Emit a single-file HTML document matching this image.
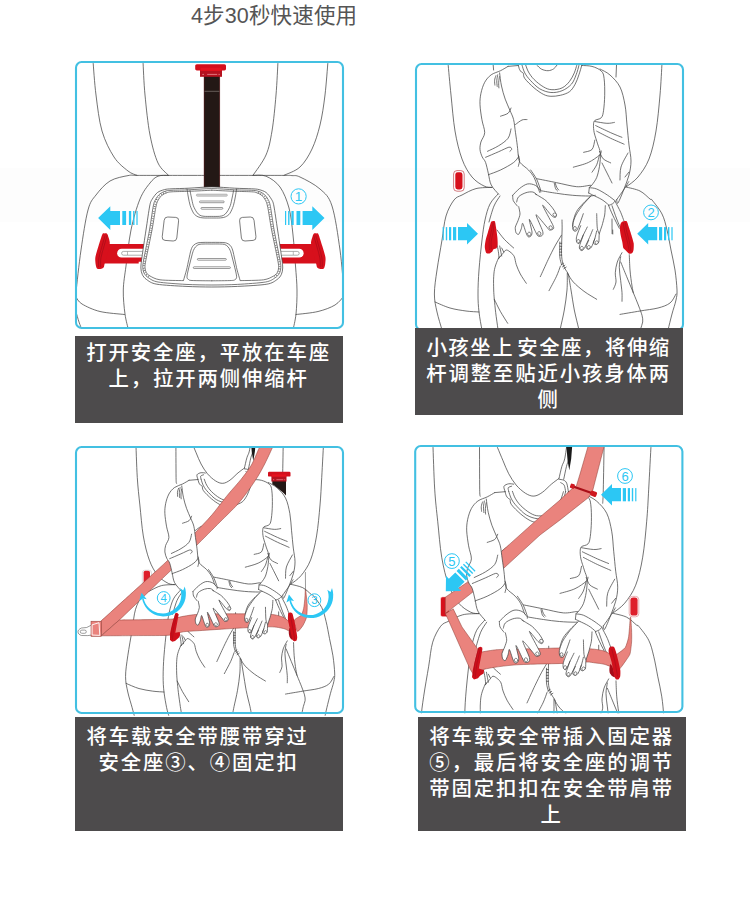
<!DOCTYPE html>
<html lang="zh-CN">
<head>
<meta charset="utf-8">
<title>4步30秒快速使用</title>
<style>
html,body{margin:0;padding:0;background:#fff;}
body{width:750px;height:897px;position:relative;overflow:hidden;font-family:"Liberation Sans","Noto Sans CJK SC",sans-serif;}
.band{position:absolute;left:0;top:168px;width:750px;height:54px;background:#fdfdfd;}
.title{position:absolute;left:191px;top:1px;height:30px;line-height:30px;font-size:21.5px;color:#555;white-space:nowrap;letter-spacing:0.15px;}
.cap{position:absolute;background:#4d4b4c;color:#fff;font-size:20.4px;letter-spacing:1.85px;font-weight:500;line-height:26px;text-align:center;white-space:nowrap;}
.cap span{position:absolute;left:0;display:block;white-space:nowrap;}
svg.art{position:absolute;left:0;top:0;}
</style>
</head>
<body>
<div class="band"></div>
<div class="title">4步30秒快速使用</div>
<svg class="art" width="750" height="897" viewBox="0 0 750 897">
<defs>
<clipPath id="c1"><rect x="76" y="62" width="267" height="266" rx="6"/></clipPath>
<clipPath id="c2"><rect x="416" y="64" width="267" height="266" rx="6"/></clipPath>
<clipPath id="c3"><rect x="76" y="447" width="267" height="270" rx="6"/></clipPath>
<clipPath id="c4"><rect x="415" y="446" width="267.5" height="267.2" rx="6"/></clipPath>
</defs>
<g id="p1" clip-path="url(#c1)">
<g fill="none" stroke="#444" stroke-width="0.75" stroke-linecap="round" stroke-linejoin="round">
<path d="M93 61C93.5 66.7 94.5 83.3 96 95C97.5 106.7 99 120.7 102 131C105 141.3 109.7 150.3 114 157C118.3 163.7 124.2 167.9 128 171C131.8 174.1 135.5 174.6 137 175.3"/>
<path d="M143 61C143.3 66.7 143.8 82.7 145 95C146.2 107.3 147.8 123.7 150 135C152.2 146.3 154.9 156.3 158 163C161.1 169.7 166.8 173.2 168.5 175.3"/>
<path d="M328 61C327.5 66.7 326.3 84.3 325 95C323.7 105.7 322.2 116 320 125C317.8 134 315.3 142 312 149C308.7 156 304.7 162.6 300 167C295.3 171.4 286.7 173.9 284 175.3"/>
<path d="M278 61C277.7 66.7 277 83.3 276 95C275 106.7 273.7 121 272 131C270.3 141 269.2 147.6 266 155C262.8 162.4 255.2 171.9 253 175.3"/>
<path d="M204 175.4C198 175.4 179.2 175.4 168 175.4C156.8 175.4 143.7 175.4 137 175.4C130.3 175.4 132.5 174.7 128 175.6C123.5 176.5 115.3 177.8 110 181C104.7 184.2 99.7 190.2 96 195C92.3 199.8 90.5 200.8 88 210C85.5 219.2 83 236.3 81 250C79 263.7 76.8 285 76 292"/>
<path d="M219.5 175.4C225.1 175.4 242.2 175.4 253 175.4C263.8 175.4 277.5 175.4 284 175.4C290.5 175.4 289.3 175.3 292 175.6C294.7 175.9 295.3 174.8 300 177C304.7 179.2 314.7 184.2 320 189C325.3 193.8 328.7 195.8 332 206C335.3 216.2 338 235.7 340 250C342 264.3 343.3 285 344 292"/>
<path d="M168.5 175.4C166.8 175.5 161.1 174.9 158 176.2C154.9 177.5 153 179.2 150 183C147 186.8 143.2 191.2 140 199C136.8 206.8 133.3 218.8 131 230C128.7 241.2 127.3 256 126 266C124.7 276 123.5 282 123.3 290C123.1 298 124.1 307.3 125 314C125.9 320.7 127.9 327.3 128.5 330"/>
<path d="M253 175.4C255.2 175.5 261.5 174.3 266 176.2C270.5 178.1 276.2 181.7 280 187C283.8 192.3 286.8 200 289 208C291.2 216 291.9 225.3 293 235C294.1 244.7 294.8 256.8 295.5 266C296.2 275.2 296.9 282 297 290C297.1 298 296.7 307.3 296 314C295.3 320.7 293.5 327.3 293 330"/>
<path d="M76 297C77 298.2 78 301.6 82 304C86 306.4 92.9 309.8 100 311.5C107.1 313.2 120.4 314 124.5 314.5"/>
<path d="M76 312C76.5 313.7 78 319 79 322C80 325 81.5 328.7 82 330"/>
<path d="M344 296C342.5 297.5 339.3 302.4 335 305C330.7 307.6 324.5 309.9 318 311.5C311.5 313.1 299.7 314 296 314.5"/>
</g>
<rect x="204" y="75" width="15.8" height="112.5" fill="#231815"/>
<path d="M204.2 75V187.5M219.6 75V187.5" stroke="#5a1a1c" stroke-width="0.6" fill="none"/>
<path d="M204.5 91.3H219.4" stroke="#a9a09c" stroke-width="0.5" fill="none"/>
<rect x="200" y="66" width="22" height="10.8" fill="#b5121f"/>
<rect x="195.2" y="64.2" width="30.8" height="6.2" rx="1.6" fill="#d30f1c"/>
<rect x="200.5" y="67.7" width="21" height="3.2" fill="#e5131f"/>
<path d="M202.3 74.4H204M207.2 74.4H217.2M218.5 74.4H219.8" stroke="#f0a0a6" stroke-width="0.7" fill="none"/>
<path d="M107 244L145 244L145 261.8L138.7 261.8L138.7 263.6L103.5 263.6Z" fill="#d7101c"/><path d="M102.3 234.4C103.1 232.7 103.8 233.5 104.5 233.4C105.2 233.3 106.7 233.4 107.2 233.9C107.7 234.4 108.1 235.8 108.4 237C108.7 238.2 109.9 241 109.8 243C109.7 245 108.6 249.5 108 252C107.4 254.5 105.6 259.9 105 262C104.4 264.1 104.2 266.7 103.6 267.6C103 268.5 101.4 268.9 100.5 269C99.6 269.1 97.7 269.3 97 268.6C96.3 267.9 95.8 265.5 95.6 264C95.4 262.5 95 259.4 95.4 257C95.8 254.6 97.6 249 98.5 246C99.4 243 101.5 236.1 102.3 234.4Z" fill="#d7101c"/><path d="M105.1 235.5C104.5 237.4 102.8 243.2 101.8 247C100.8 250.8 99.4 254.7 98.9 258C98.3 261.3 98.6 265.5 98.5 267" fill="none" stroke="#9d0c18" stroke-width="0.6"/><path d="M107.1 235.5C106.5 237.4 104.8 243.2 103.8 247C102.8 250.8 101.4 254.7 100.9 258C100.3 261.3 100.6 265.5 100.5 267" fill="none" stroke="#9d0c18" stroke-width="0.6"/><path d="M145 248.7H121.6A4.45 4.45 0 0 0 121.6 257.6H145Z" fill="#fff"/><path d="M145 251.4H123.5A1.9 1.9 0 0 0 123.5 255.2H145" fill="none" stroke="#777" stroke-width="0.6"/><path d="M127.5 251.6V255" stroke="#777" stroke-width="0.5"/>
<path d="M313.8 244L275.8 244L275.8 261.8L282.1 261.8L282.1 263.6L317.3 263.6Z" fill="#d7101c"/><path d="M318.5 234.4C317.7 232.7 317 233.5 316.3 233.4C315.6 233.3 314.1 233.4 313.6 233.9C313.1 234.4 312.7 235.8 312.4 237C312.1 238.2 310.9 241 311 243C311.1 245 312.2 249.5 312.8 252C313.4 254.5 315.2 259.9 315.8 262C316.4 264.1 316.6 266.7 317.2 267.6C317.8 268.5 319.4 268.9 320.3 269C321.2 269.1 323.1 269.3 323.8 268.6C324.5 267.9 325 265.5 325.2 264C325.4 262.5 325.8 259.4 325.4 257C325 254.6 323.2 249 322.3 246C321.4 243 319.3 236.1 318.5 234.4Z" fill="#d7101c"/><path d="M315.7 235.5C316.3 237.4 318 243.2 319 247C320 250.8 321.4 254.7 321.9 258C322.5 261.3 322.2 265.5 322.3 267" fill="none" stroke="#9d0c18" stroke-width="0.6"/><path d="M313.7 235.5C314.3 237.4 316 243.2 317 247C318 250.8 319.4 254.7 319.9 258C320.5 261.3 320.2 265.5 320.3 267" fill="none" stroke="#9d0c18" stroke-width="0.6"/><path d="M275.8 248.7H299.2A4.45 4.45 0 0 1 299.2 257.6H275.8Z" fill="#fff"/><path d="M275.8 251.4H297.3A1.9 1.9 0 0 1 297.3 255.2H275.8" fill="none" stroke="#777" stroke-width="0.6"/><path d="M293.3 251.6V255" stroke="#777" stroke-width="0.5"/>
<path d="M211.8 186.9C205 186.9 195 187.9 189 188.2C183 188.5 175.7 188.6 172 188.8C168.3 189 166.7 189 164.5 189.6C162.3 190.2 159.3 191.1 157.5 192.5C155.7 193.9 153.5 197 152.3 199C151.1 201 150.6 201.3 149.7 206C148.8 210.7 147.2 222.3 146 230C144.8 237.7 142.8 251.3 142 257C141.2 262.7 140.9 265.4 140.9 268C140.9 270.6 141.5 272.8 142.3 274.5C143.1 276.2 144.3 278 146.5 279.5C148.7 281 150.9 283.2 156.8 284.2C162.7 285.2 177.8 286 186 286.4C194.2 286.8 204.1 287 211.8 287C219.5 287 229.4 286.8 237.6 286.4C245.9 286 260.9 285.2 266.8 284.2C272.7 283.2 274.9 281 277.1 279.5C279.3 278 280.5 276.2 281.3 274.5C282.1 272.8 282.7 270.6 282.7 268C282.7 265.4 282.4 262.7 281.6 257C280.8 251.3 278.8 237.7 277.6 230C276.4 222.3 274.8 210.7 273.9 206C273 201.3 272.5 201 271.3 199C270.1 197 267.9 193.9 266.1 192.5C264.3 191.1 261.3 190.2 259.1 189.6C256.9 189 255.3 189 251.6 188.8C247.9 188.6 240.6 188.5 234.6 188.2C228.6 187.9 218.6 186.9 211.8 186.9Z" fill="#fff" stroke="#444" stroke-width="0.75" stroke-linejoin="round"/>
<path d="M211.8 188.6C205 188.6 195 189.5 189 189.8C183 190.1 175.4 190.1 172 190.3C168.6 190.5 167.8 190.5 166 191C164.2 191.5 161.6 192.5 160 193.8C158.4 195.1 156.5 197.6 155.5 199.5C154.5 201.4 154.1 201.9 153.2 206.5C152.3 211.1 150.9 222.1 149.5 230C148.1 237.9 144.8 253.4 143.8 259C142.8 264.6 142.7 265.3 142.8 267.5C142.9 269.7 143.4 272 144.3 273.5C145.2 275 146.4 276.5 148.5 277.8C150.6 279.1 152.4 281 158 282C163.6 283 177.9 283.9 186 284.4C194.1 284.8 204.1 285 211.8 285C219.5 285 229.5 284.8 237.6 284.4C245.7 283.9 260 283 265.6 282C271.2 281 273 279.1 275.1 277.8C277.2 276.5 278.4 275 279.3 273.5C280.2 272 280.7 269.7 280.8 267.5C280.9 265.3 280.8 264.6 279.8 259C278.8 253.4 275.5 237.9 274.1 230C272.7 222.1 271.3 211.1 270.4 206.5C269.5 201.9 269.1 201.4 268.1 199.5C267.1 197.6 265.2 195.1 263.6 193.8C262 192.5 259.4 191.5 257.6 191C255.8 190.5 255.1 190.5 251.6 190.3C248.2 190.1 240.6 190.1 234.6 189.8C228.6 189.5 218.6 188.6 211.8 188.6Z" fill="none" stroke="#444" stroke-width="0.7"/>
<g fill="none" stroke="#444" stroke-width="0.7" stroke-linecap="round" stroke-linejoin="round">
<path d="M211.8 190.2C208.4 190.4 195 191.1 189 191.3C183 191.5 175.2 191.6 172 191.8C168.8 192 169 192 167.5 192.5C166 193 163.4 194 162 195.2C160.6 196.4 158.9 198.7 158 200.5C157.1 202.3 156.7 203.1 155.8 207.5C154.9 211.9 153.5 222.2 152 230C150.5 237.8 147.1 253.9 146 259.5C144.9 265.1 145 265.6 145 267.5C145 269.4 145.6 271.2 146.3 272.5C147.1 273.8 147.9 274.9 150 276C152.1 277.1 155.1 279.1 160 279.8C164.9 280.5 179.6 280.5 183 280.6"/>
<path d="M240.6 280.6C244.1 280.5 258.7 280.5 263.6 279.8C268.6 279.1 271.5 277.1 273.6 276C275.7 274.9 276.6 273.8 277.3 272.5C278.1 271.2 278.6 269.4 278.6 267.5C278.6 265.6 278.7 265.1 277.6 259.5C276.6 253.9 273.1 237.8 271.6 230C270.1 222.2 268.7 211.9 267.8 207.5C266.9 203.1 266.5 202.3 265.6 200.5C264.7 198.7 263 196.4 261.6 195.2C260.2 194 257.6 193 256.1 192.5C254.6 192 254.8 192 251.6 191.8C248.4 191.6 240.6 191.5 234.6 191.3C228.6 191.1 215.2 190.4 211.8 190.2"/>
<path d="M166 192.2C165.3 192.5 162.6 193.7 161.5 194.4C160.4 195.1 159.3 196.2 158.6 197C157.9 197.8 157.3 198.5 156.7 200C156.1 201.5 155.4 202.5 154.5 207C153.6 211.5 152.2 222.2 150.8 230C149.4 237.8 145.9 253.6 144.9 259.2C143.9 264.8 143.8 265.4 143.9 267.5C144 269.6 144.5 271.6 145.3 273C146.1 274.4 148.6 276.3 149.2 276.9" stroke-dasharray="0.5 1.9" stroke-width="1.8" stroke-linecap="butt"/>
<path d="M274.4 276.9C275 276.3 277.5 274.4 278.3 273C279.1 271.6 279.6 269.6 279.7 267.5C279.8 265.4 279.7 264.8 278.7 259.2C277.7 253.6 274.2 237.8 272.8 230C271.4 222.2 270 211.5 269.1 207C268.2 202.5 267.5 201.5 266.9 200C266.3 198.5 265.7 197.8 265 197C264.3 196.2 263.2 195.1 262.1 194.4C261 193.7 258.3 192.5 257.6 192.2" stroke-dasharray="0.5 1.9" stroke-width="1.8" stroke-linecap="butt"/>
<path d="M187 189C187.2 190.2 187.8 194.5 188.3 197C188.8 199.5 189.4 203.1 190.2 205.6C191 208.1 192.6 211.8 193.8 213.5C195 215.2 196.6 216.1 198 216.8C199.4 217.5 200.9 217.7 203 217.9C205.1 218.1 209.2 218 211.8 218C214.4 218 218.5 218.1 220.6 217.9C222.7 217.7 224.2 217.5 225.6 216.8C227 216.1 228.6 215.2 229.8 213.5C231 211.8 232.6 208.1 233.4 205.6C234.2 203.1 234.8 199.5 235.3 197C235.8 194.5 236.4 190.2 236.6 189"/>
<path d="M190 190.5C190.2 191.5 190.8 194.7 191.3 197C191.8 199.3 192.5 203.3 193.3 205.6C194.1 207.8 195.6 210.5 196.6 212C197.6 213.5 198.9 214.7 200 215.3C201.1 215.9 202.2 216.1 204 216.3C205.8 216.5 209.5 216.4 211.8 216.4C214.1 216.4 217.8 216.5 219.6 216.3C221.4 216.1 222.5 215.9 223.6 215.3C224.7 214.7 226 213.5 227 212C228 210.5 229.5 207.8 230.3 205.6C231.1 203.3 231.8 199.3 232.3 197C232.8 194.7 233.4 191.5 233.6 190.5"/>
<path d="M183.5 280.4C183.9 278.8 185.7 273.1 186.5 270C187.3 266.9 188.1 262.5 188.8 259.5C189.5 256.5 190.3 252.1 191 250C191.7 247.9 192.4 246.4 193.5 245.3C194.6 244.2 196.4 243.2 198 242.8C199.6 242.4 201.9 242.5 204 242.4C206.1 242.3 209.5 242.4 211.8 242.4C214.1 242.4 217.5 242.3 219.6 242.4C221.7 242.5 224 242.4 225.6 242.8C227.2 243.2 229.1 244.2 230.1 245.3C231.2 246.4 231.9 247.9 232.6 250C233.3 252.1 234.1 256.5 234.8 259.5C235.5 262.5 236.3 266.9 237.1 270C237.9 273.1 239.7 278.8 240.1 280.4"/>
<path d="M211.8 280.8C208.8 280.8 195.5 280.7 192 280.5C188.5 280.3 189.2 280 188.5 279.5C187.8 279 187.1 278.7 187 277.4C186.9 276.1 187.3 274.1 188 271C188.7 267.9 190.7 260.1 191.5 257C192.3 253.9 192.8 252 193.4 250.5C194 249 194.8 247.7 195.6 246.8C196.4 245.9 197.7 244.8 199 244.4C200.3 244 202.1 244.1 204 244C205.9 243.9 209.5 244 211.8 244C214.1 244 217.7 243.9 219.6 244C221.5 244.1 223.3 244 224.6 244.4C225.9 244.8 227.2 245.9 228 246.8C228.8 247.7 229.6 249 230.2 250.5C230.8 252 231.3 253.9 232.1 257C232.9 260.1 234.9 267.9 235.6 271C236.3 274.1 236.7 276.1 236.6 277.4C236.5 278.7 235.9 279 235.1 279.5C234.4 280 235.1 280.3 231.6 280.5C228.1 280.7 214.8 280.8 211.8 280.8"/>
<path d="M164.2 220Q164.6 216.8 167.8 217L175.8 217.4Q179 217.6 178.6 220.8L176.8 238Q176.4 241.2 173.2 241L165 240.4Q161.8 240.2 162.2 237Z"/>
<path d="M254 220Q253.6 216.8 250.4 217L242.4 217.4Q239.2 217.6 239.6 220.8L241.4 238Q241.8 241.2 245 241L253.2 240.4Q256.4 240.2 256 237Z"/>
</g>
<rect x="196.3" y="194.1" width="31.1" height="2.2" rx="1.1" fill="#cfcfcf" stroke="#999" stroke-width="0.5"/>
<rect x="199.5" y="201" width="24.7" height="1.7" rx="0.8" fill="none" stroke="#555" stroke-width="0.6"/>
<rect x="201" y="207.5" width="21.8" height="1.7" rx="0.8" fill="none" stroke="#555" stroke-width="0.6"/>
<rect x="197.4" y="258.5" width="28.9" height="1.7" rx="0.8" fill="none" stroke="#555" stroke-width="0.6"/>
<rect x="193.3" y="266.8" width="37.1" height="1.7" rx="0.8" fill="none" stroke="#555" stroke-width="0.6"/>
<path d="M98.1 218L110.3 206.2L110.3 211L120 211L120 225L110.3 225L110.3 229.9Z" fill="#2cc7f4"/><rect x="122.3" y="211" width="3.8" height="14" fill="#2cc7f4"/><rect x="128.9" y="211" width="2.3" height="14" fill="#2cc7f4"/><rect x="133.1" y="211" width="1.4" height="14" fill="#2cc7f4"/><rect x="136.4" y="211" width="1.2" height="14" fill="#2cc7f4"/>
<path d="M324.5 218L312.3 206.2L312.3 211L302.6 211L302.6 225L312.3 225L312.3 229.9Z" fill="#2cc7f4"/><rect x="296.5" y="211" width="3.8" height="14" fill="#2cc7f4"/><rect x="291.4" y="211" width="2.3" height="14" fill="#2cc7f4"/><rect x="288.1" y="211" width="1.4" height="14" fill="#2cc7f4"/><rect x="285" y="211" width="1.2" height="14" fill="#2cc7f4"/>
<circle cx="298.6" cy="196.4" r="7.6" fill="none" stroke="#2cc7f4" stroke-width="1"/>
<text x="298.6" y="201.3" font-size="13.5" text-anchor="middle" fill="#2cc7f4" font-family="Liberation Sans,sans-serif">1</text>
</g>
<g id="p2" clip-path="url(#c2)">
<g fill="none" stroke="#444" stroke-width="0.75" stroke-linecap="round" stroke-linejoin="round"><path d="M448 63C448.5 68.3 449.8 83.7 451 95C452.2 106.3 453.2 120.3 455 131C456.8 141.7 459.2 151.3 462 159C464.8 166.7 468.3 172.5 472 177C475.7 181.5 480.7 184.3 484 186C487.3 187.7 490.7 187.2 492 187.4"/><path d="M493 63L493.6 70"/><path d="M662 63C661.7 68.3 661 83.7 660 95C659 106.3 657.8 120.3 656 131C654.2 141.7 652 151.3 649 159C646 166.7 641.8 172.3 638 177C634.2 181.7 628 185.3 626 187"/><path d="M616.6 63L616 77"/><path d="M492 187.4C489.3 187.6 481 187.3 476 188.6C471 189.9 465.7 193.1 462 195C458.3 196.9 456.7 196.5 454 200C451.3 203.5 448 209.3 446 216C444 222.7 443.5 231 442 240C440.5 249 438.3 261 437 270C435.7 279 434.4 287 434.4 294C434.4 301 435.7 306 437 312C438.3 318 440.8 325.5 442 330C443.2 334.5 444 337.5 444.4 339"/><path d="M626 187C628.3 187.7 636 189 640 191C644 193 648 197.5 650 199C652 200.5 650 197.5 652 200C654 202.5 659.5 209 662 214C664.5 219 665.5 224 667 230C668.5 236 669.7 243.3 671 250C672.3 256.7 674 263.3 675 270C676 276.7 676.8 285 677 290C677.2 295 676.8 296 676 300C675.2 304 673.3 309 672 314C670.7 319 669 325.8 668 330C667 334.2 666.3 337.5 666 339"/><path d="M435 302C437.5 303 444.8 306.5 450 308C455.2 309.5 461.2 310.3 466 311C470.8 311.7 476.8 311.8 479 312"/><path d="M676 294C675 295.5 673 300.7 670 303C667 305.3 663 306.7 658 308C653 309.3 646.3 309.9 640 311C633.7 312.1 623.3 313.8 620 314.4"/><path d="M498 194C496.7 195.7 492.2 199.7 490 204C487.8 208.3 486.3 214 485 220C483.7 226 483 231.7 482 240C481 248.3 479.7 261 479 270C478.3 279 478 287 478 294C478 301 478.3 306 479 312C479.7 318 481.1 325.5 482 330C482.9 334.5 484 337.5 484.4 339"/><path d="M500 196C499 197.7 495.8 201.7 494 206C492.2 210.3 489.8 219.3 489 222"/></g>
<g fill="none" stroke="#444" stroke-width="0.75" stroke-linecap="round" stroke-linejoin="round"><path d="M518.3 65.1C518.5 65.8 519 68.4 519.6 69.6C520.1 70.7 520.8 71.4 521.4 72C522.1 72.6 522.7 72.2 523.3 73.3C523.9 74.4 523 76.1 524.8 78.5C526.6 81 531 85.2 534.1 87.9C537.2 90.5 540.7 93 543.5 94.4C546.3 95.8 548.1 96.1 550.9 96.3C553.7 96.4 557.2 96.1 560.3 95.3C563.4 94.6 567.1 93.5 569.6 91.6C572.1 89.7 573.6 86.9 575.2 84.1C576.8 81.3 577.8 77.9 578.9 74.8C580 71.7 581.3 67 581.7 65.5"/><path d="M522 65.1C522.5 66.4 523.4 70.4 524.8 72.9C526.2 75.5 527.9 77.8 530.4 80.4C532.9 83 536.3 86.8 539.7 88.8C543.2 90.8 547.2 92.2 550.9 92.5C554.7 92.8 558.7 92.1 562.1 90.7C565.6 89.3 569.1 86.8 571.5 84.1C573.8 81.5 574.9 77.9 576.1 74.8C577.4 71.7 578.5 67 578.9 65.5"/><path d="M525.7 65.1C526.2 66.2 527.1 69.6 528.5 72C529.9 74.4 531.6 77 534.1 79.5C536.6 82 540.5 85.2 543.5 86.9C546.4 88.6 548.8 89.6 551.9 89.7C555 89.9 559.2 89.3 562.1 87.9C565.1 86.5 567.6 83.8 569.6 81.3C571.6 78.8 573.1 75.6 574.3 72.9C575.4 70.3 576.3 66.7 576.7 65.5"/><path d="M536.9 65.1C537.7 65.8 539.7 68.3 541.6 69.2C543.5 70.1 546.1 70.8 548.1 70.7C550.2 70.6 552.3 69.8 553.7 68.8C555.2 67.9 556.4 65.7 556.9 65.1"/><path d="M518.3 65.5L508 66.4"/><path d="M581.7 65.5C583.4 65.6 588.7 65.5 592 66.4C595.3 67.3 599.3 69 601.3 71.1C603.4 73.1 603.6 74.5 604.1 78.5C604.7 82.6 604.8 90 604.7 95.3C604.6 100.6 604.1 106.5 603.6 110.3C603 114 602.8 116 601.3 117.7C599.9 119.4 596.1 119.3 594.8 120.5C593.5 121.8 593.6 123.2 593.5 125.2C593.4 127.2 593.6 129.6 594.2 132.7C594.9 135.8 596.6 140.4 597.6 143.9C598.6 147.3 600.1 149.5 600.4 153.2C600.7 156.9 600.1 162.2 599.5 166.3C598.8 170.3 597.9 174.4 596.7 177.5C595.4 180.6 593.1 183.4 592 184.9C590.9 186.5 590.4 186.5 590.1 186.8"/><path d="M600 69C601.7 70 606.7 72 610 75C613.3 78 617.5 82 620 87C622.5 92 623.8 98.7 625 105C626.2 111.3 626.3 118.3 627 125C627.7 131.7 628.3 139 629 145C629.7 151 631 156 631 161C631 166 630.2 170.3 629 175C627.8 179.7 625.8 184.3 624 189C622.2 193.7 619.2 201.2 618 203C616.8 204.8 616.9 200.2 616.7 199.7"/><path d="M594.8 121.5C596.8 121.8 603.7 123.2 606.9 123.3C610.2 123.5 613.2 122.6 614.4 122.4"/><path d="M595.7 125.6C598.2 126.8 606.3 130.7 610.7 132.7C615 134.6 620 136.6 621.9 137.3"/><path d="M596.7 131.2C599 132.4 606.1 136.1 610.7 138.3C615.2 140.4 621.9 143.2 624.1 144.2"/><path d="M583.6 152.3C585 151.8 590.1 151.5 592 149.5C593.9 147.4 594.3 141.7 594.8 140.1"/><path d="M573.3 167.2C575.8 166.4 583.9 164.6 588.3 162.5C592.6 160.5 597.3 157 599.5 155.1C601.6 153.1 601 151.6 601.3 151"/><path d="M592 172.2C592.8 171 595.4 167.6 596.7 164.8C597.9 161.9 599 156.7 599.5 155.1"/><path d="M599.5 151.3C600.1 152.6 601.3 156.9 603.2 158.8C605.1 160.7 609.4 162.2 610.7 162.9"/><path d="M602 163C602.7 164.3 604.3 167.7 606 171C607.7 174.3 611 181 612 183"/><path d="M620 180C620.2 177.8 619.7 171.5 621 167C622.3 162.5 626.8 155.3 628 153"/><path d="M625 177L629 172"/><path d="M530.7 170C531.7 171.6 535 176 536.7 179.3C538.3 182.7 540 188.2 540.7 190"/><path d="M536.7 178.7C540 179.3 550 181.3 556.7 182.7C563.3 184 571.1 186.2 576.7 186.7C582.2 187.1 587.8 185.4 590 185.3C592.2 185.2 590.1 185.9 590.1 186.1"/><path d="M540.7 190.7C543.3 191.1 551.3 192.6 556.7 193.3C562 194.1 567.3 194.9 572.7 195.3C578 195.8 584.9 196 588.7 196C592.4 196 594.2 195.4 595.3 195.3"/><path d="M555.3 183.3C555.6 184 556.1 186.2 556.7 187.3C557.2 188.4 558.3 189.6 558.7 190"/><path d="M554.3 183.4C554.5 184.3 555.1 187.4 555.6 188.7C556.1 189.9 557.2 190.5 557.5 190.9"/><path d="M608.7 205.7C609.3 207.2 610.9 211.2 612.7 215C614.4 218.8 618.2 226.1 619.3 228.3"/><path d="M615.3 201.7C616.2 203.4 619.2 209.1 620.7 212.3C622.1 215.6 623.4 219.6 624 221"/><path d="M612 205.7C612.8 207.9 615.2 215.2 616.7 219C618.1 222.8 620 226.8 620.7 228.3"/><path d="M616.7 199.7C618 197.8 622.7 191.3 624.7 188.3C626.7 185.3 628 182.8 628.7 181.7"/><path d="M612 219L612.1 233.7"/><path d="M590 196.7C588.9 197.8 585.6 200.9 583.3 203.3C581.1 205.8 578.3 208.4 576.7 211.3C575 214.2 574 218.2 573.3 220.7C572.7 223.1 573 225.1 572.9 226"/><path d="M562 220C562 221.7 562.2 226.3 562.1 230C562.1 233.7 561.7 237.6 561.7 242C561.6 246.4 561.3 252.7 561.7 256.7C562 260.7 562.7 263.3 563.7 266C564.7 268.7 566.9 271.6 567.7 272.9C568.4 274.3 567.1 272.5 568 274C568.9 275.5 570.7 279.1 573.3 282C576 284.9 580.1 288.4 584 291.3C587.9 294.2 594.6 298 596.7 299.3"/><path d="M559.8 242C559.8 244.4 559.5 252.8 559.8 256.7C560.1 260.5 561.4 263.6 561.7 264.9"/><path d="M559.8 243.3L561.7 243.3"/><path d="M559.8 246.3L561.7 246.3"/><path d="M559.8 249.2L561.7 249.2"/><path d="M559.8 252.1L561.7 252.1"/><path d="M559.8 255.1L561.7 255.1"/><path d="M561.1 264.9L563.5 263.3"/><path d="M562.5 266.8L564.9 265.2"/><path d="M563.8 268.7L566.2 267.1"/><path d="M561.4 235.3C560.3 237.1 557.2 242 555 246C552.8 250 550.8 254.2 548.3 259.3C545.9 264.4 541.7 273.8 540.3 276.7"/><path d="M560.3 266.3C559.7 268 558.2 272.6 556.3 276.7C554.4 280.7 550.2 288.3 549 290.7"/><path d="M567.3 272.9C567.2 275.8 567.5 283.8 567 290C566.5 296.2 565.4 303.6 564.3 310C563.2 316.4 561.2 324.4 560.3 328.7C559.4 332.9 559.2 334.2 559 335.3"/><path d="M568.3 274C568.8 276.7 570 284 571 290C572 296 573.1 303.6 574.3 310C575.6 316.4 577.7 324.4 578.7 328.7C579.6 332.9 579.8 334.2 580 335.3"/><path d="M500.3 256.7C500 257 499.2 256.9 498.3 258.7C497.4 260.4 495.8 264.3 495 267.3C494.2 270.3 493.9 272.9 493.7 276.7C493.4 280.4 493.6 286.2 493.7 290C493.8 293.8 494 295.6 494.3 299.3C494.7 303.1 495.1 307.8 495.7 312.7C496.3 317.6 497.4 324.9 497.9 328.7C498.5 332.4 498.8 334.2 499 335.3"/><path d="M494.3 299.3C495.3 301.3 498.1 307.3 500.3 311.3C502.6 315.3 506.4 321.3 507.7 323.3"/><path d="M497 244.7C497.2 245.8 498 249.1 498.3 251.3C498.7 253.6 498.9 256.9 499 258"/><path d="M499.7 246C499.9 247.1 500.7 251 501 252.7C501.3 254.3 501.6 255.4 501.7 256"/><path d="M501.7 248L503.7 252"/><path d="M498.3 258.7C499.1 257.8 501.7 254.8 503 253.3C504.3 251.9 505 250.1 506.3 250C507.7 249.9 509.7 251.6 511 252.7C512.3 253.8 513.4 254.7 514.3 256.7C515.2 258.7 515.3 261.8 516.3 264.7C517.3 267.6 518.7 270.9 520.3 274C522 277.1 525.3 281.8 526.3 283.3"/><path d="M497 230C498.2 231.6 501.6 236.3 504.3 239.3C507.1 242.3 512.1 246.6 513.7 248"/><path d="M622 252.7C621.2 254.2 618.4 258.7 617.3 262C616.2 265.3 615.6 269.3 615.3 272.7C615.1 276 616.3 279.2 616 282C615.7 284.8 613.8 288.1 613.3 289.3"/><path d="M620.7 256.7C620.4 258.4 619.3 263.3 619.3 267.3C619.3 271.3 620.2 276.4 620.7 280.7C621.1 284.9 621.8 289.2 622 292.7C622.2 296.1 622 299.9 622 301.3"/><path d="M620.7 262C621.7 264.4 624.6 271.6 626.7 276.7C628.8 281.8 631.3 287.8 633.3 292.7C635.3 297.6 637.2 302.2 638.7 306C640.1 309.8 641.3 312.7 642 315.3C642.7 318 642.9 319.8 642.7 322C642.4 324.2 641.2 326.4 640.7 328.7C640.1 330.9 639.6 334.2 639.3 335.3"/><path d="M629.3 254.7C629.4 257.2 629.6 264.8 630 270C630.4 275.2 631.4 282.2 632 286C632.6 289.8 633.1 291.6 633.3 292.7"/><path d="M612.7 230L612.8 234"/><path d="M515.5 124.5C516.6 123.7 520.1 120.8 522 120C523.9 119.2 526.2 119.7 527 119.6"/></g>
<g fill="none" stroke="#444" stroke-width="0.75" stroke-linecap="round" stroke-linejoin="round"><path d="M508 66.4C506.8 67.1 503.3 69.3 500.5 70.7C497.7 72.1 493.8 72.9 491.2 74.8C488.6 76.7 486.4 79.2 484.7 82.3C483 85.4 481.7 89.7 480.9 93.5C480.2 97.2 479.8 100.3 480 104.7C480.2 109 481.1 114.9 481.9 119.6C482.6 124.3 484.8 128.9 484.7 132.7C484.5 136.4 481.7 139.2 480.9 142C480.2 144.8 479.8 147 480 149.5C480.2 152 481.3 154.8 482.2 156.9C483.2 159.1 484.6 159.7 485.6 162.5C486.6 165.3 487.5 170 488.4 173.7C489.3 177.5 489.5 181.5 491.2 184.9C492.9 188.4 497.4 192.7 498.7 194.3"/><path d="M499.6 72.9C499.9 75.1 500.5 81.6 501.5 86C502.4 90.4 503.8 95 505.2 99.1C506.6 103.1 508.5 106.8 509.9 110.3C511.3 113.7 512.7 115.9 513.6 119.6C514.5 123.3 514.8 128.3 515.5 132.7C516.1 137 516.9 142 517.3 145.7C517.8 149.5 517.8 152.3 518.3 155.1C518.7 157.9 518.4 160 520.1 162.5C521.8 165 526.2 167.5 528.5 170C530.9 172.5 532.7 175 534.1 177.5C535.5 180 536 182.4 536.9 184.9C537.9 187.4 539.3 191.2 539.7 192.4"/><path d="M495.9 75.7C495.6 76.5 494.7 78.8 494.6 80.4C494.4 82 494.9 84.3 494.9 85.1"/><path d="M497.7 74.8C497.6 75.7 496.9 78.5 496.8 80.4C496.7 82.3 497.1 85.4 497.2 86.4"/><path d="M499.4 76.7C499.3 77.6 498.8 80.4 498.7 82.3C498.6 84.1 498.8 86.9 498.9 87.9"/><path d="M500.5 116.2C501.8 115.7 506.3 114.6 508 113.3C509.7 111.9 510.5 108.9 511 108"/><path d="M487.5 151.3C489.3 150.4 495.2 147.9 498.7 145.7C502.1 143.6 505.9 141.1 508 138.3C510.1 135.5 510.5 130.5 511 128.9"/><path d="M485.6 157.3C487.8 156.4 494.8 153.4 498.7 151.7C502.6 150 506.8 147.7 508.9 147.2C511.1 146.8 511.6 148.4 511.7 149.1C511.9 149.8 510.2 151 509.9 151.3"/><path d="M488.4 174.7C490.4 173.9 496.3 172 500.5 170C504.7 168 510.6 164.8 513.6 162.5C516.6 160.3 517.8 157.6 518.6 156.6"/><path d="M518.3 155.1C518.5 155.9 519.6 158.4 519.6 160.3C519.6 162.2 518.5 165.3 518.3 166.3"/></g>
<g fill="none" stroke="#444" stroke-width="0.75" stroke-linecap="round" stroke-linejoin="round"><path d="M512.7 195.3C513.8 194.2 516.9 190.6 519.3 188.7C521.8 186.8 524.7 184.6 527.3 184C530 183.4 533.2 184.3 535.3 185.3C537.4 186.3 539.1 188.9 540 190C540.9 191.1 540.6 191.7 540.7 192"/><path d="M516.7 202C517 201.1 517.1 198.2 518.7 196.7C520.2 195.1 523.7 193.4 526 192.7C528.3 191.9 530.9 191.7 532.7 192C534.4 192.3 536 194.2 536.7 194.7"/><path d="M512.7 195.3C512.8 196.2 512.6 198.9 513.3 200.7C514.1 202.4 516.7 205.1 517.3 206"/><path d="M518.7 206.7C518.8 207.6 520.1 212.1 520 214C519.9 215.9 518.6 218.9 518 220.7C517.4 222.4 515.6 225.7 515.3 227.3C515.1 228.9 515.6 231.7 516 232.7C516.4 233.6 518 234.8 518.7 234.3C519.4 233.7 520.8 230.1 521.3 228.7C521.9 227.2 522 222.8 522.7 223.3C523.3 223.9 525.3 230.9 526 232.7C526.7 234.4 527.4 236.2 528 236.7C528.6 237.1 530.1 236.9 530.7 236.3C531.2 235.6 532.2 234.3 532 232C531.8 229.7 528.9 219.4 529.3 219.3C529.8 219.2 534.2 229.1 535.3 231.3C536.5 233.6 537.1 235.4 538 236C538.9 236.6 541.4 236.2 542 235.6C542.6 235 543.5 234.1 542.7 231.3C541.9 228.5 535.6 215.4 536 214.7C536.4 214 544.2 224 546 226C547.8 228 548.4 229.6 549.3 230C550.3 230.4 552.9 229.6 553.3 228.9C553.8 228.2 554.1 227.8 552.7 224.7C551.2 221.5 542.8 206.6 542.7 205.3C542.5 204.1 549.6 213.7 551.3 215.3C553 217 554.7 217.6 555.3 217.5C556 217.3 556.6 215.4 556.1 214C555.7 212.6 553.4 209.1 552 207.3C550.6 205.6 547.6 202.1 546 200.7C544.4 199.2 541.4 197.6 540 196.7C538.6 195.8 536 194.4 535.3 194"/><path d="M589.3 187.7C590.6 187.9 593.7 187.8 596.7 189C599.7 190.2 604.2 193 607.3 195C610.4 197 614 200 615.3 201"/><path d="M588.7 193C589.3 193.3 590.4 193.9 592.7 195C594.9 196.1 599.3 198 602 199.7C604.7 201.3 607.6 204.1 608.7 205"/><path d="M589.3 187.7L588.7 193"/><path d="M615.3 201C614.9 201.4 613.8 202.9 612.7 203.7C611.6 204.4 609.3 205.1 608.7 205.4"/><path d="M591.3 195.7C590.3 196.8 585.4 201.8 583.3 204.3C581.3 206.9 577.4 212.3 576 215C574.6 217.7 573 222.3 572.7 224.3C572.3 226.4 572.8 229.5 573.3 230.3C573.9 231.2 575.8 231.6 576.7 230.6C577.6 229.6 579.1 225.3 580 223C580.9 220.7 582.9 214.9 583.3 213.7"/><path d="M580.7 225.7C580.1 227.1 577.2 234.2 576.7 236.3C576.1 238.5 576.3 240.7 576.7 241.7C577 242.6 578.4 244.2 579.3 243.3C580.2 242.4 582.3 237.2 583.3 235C584.4 232.8 586.8 228.1 587.3 227"/><path d="M583.3 235C582.8 236.6 579.6 244.9 579.3 247C579.1 249.1 580.7 250.3 581.3 250.5C582 250.7 583 250.5 584.1 248.6C585.3 246.7 588.9 238.9 590 236.3C591.1 233.8 592.3 230.6 592.7 229.7"/><path d="M588.7 240.3C588.3 241.2 586.1 245.8 586 247C585.9 248.2 587.3 249.1 588 249.1C588.7 249.2 590.4 248.6 591.3 247.3C592.2 245.9 594 241.2 594.7 239C595.4 236.8 596.4 232.1 596.7 231"/><path d="M594.7 239C594.5 239.5 593.2 242.3 593.3 243C593.5 243.7 595.3 244.7 596 244.6C596.7 244.5 598.4 243.4 598.8 241.9C599.2 240.5 598.9 235.8 599.3 233.7C599.8 231.5 601.3 228.2 602 225.7C602.7 223.2 604.2 217.7 604.7 215C605.1 212.3 605.2 206.9 605.3 205.7"/><path d="M596.7 213.7C596.8 216.1 596.9 225 597.3 228.3C597.8 231.7 599 232.8 599.3 233.7"/></g>
<g fill="#fff" stroke="#444" stroke-width="0.6"><ellipse cx="529.3" cy="234" rx="1.6" ry="1.9" transform="rotate(-20 529.3 234)"/><ellipse cx="539.3" cy="233.5" rx="1.6" ry="1.9" transform="rotate(-20 539.3 233.5)"/><ellipse cx="550.7" cy="227.6" rx="1.6" ry="1.9" transform="rotate(-35 550.7 227.6)"/><ellipse cx="554.7" cy="214.8" rx="1.6" ry="1.9" transform="rotate(-50 554.7 214.8)"/><ellipse cx="574.8" cy="228.3" rx="1.5" ry="1.8" transform="rotate(10 574.8 228.3)"/><ellipse cx="578.3" cy="241.3" rx="1.5" ry="1.8" transform="rotate(20 578.3 241.3)"/><ellipse cx="581.7" cy="248.1" rx="1.5" ry="1.8" transform="rotate(25 581.7 248.1)"/><ellipse cx="588.7" cy="247.3" rx="1.5" ry="1.8" transform="rotate(30 588.7 247.3)"/><ellipse cx="596.7" cy="242.5" rx="1.5" ry="1.8" transform="rotate(40 596.7 242.5)"/></g>
<path d="M491.5 221.5C492 221 494.3 220.6 494.8 221.3C495.3 222 495.7 225.5 496 227.3C496.3 229.1 497.1 234.8 497.3 236.7C497.5 238.5 497.7 242 497.7 243.3C497.6 244.7 497.2 247.3 496.7 248C496.2 248.7 494 248.8 493.5 249.2C493 249.6 492.8 251 492.3 251.5C491.9 252 490.1 253.3 489.3 253.5C488.6 253.6 486.7 253.4 486.1 252.7C485.6 252 484.9 248.8 484.8 247.3C484.7 245.9 485.3 241.8 485.7 240C486 238.2 487.5 233.7 488 232C488.5 230.3 489.6 226.6 490 225.3C490.4 224.1 490.9 221.9 491.5 221.5Z" fill="#d7101c"/>
<path d="M493 222.7C492.7 224.2 491.8 228.9 491.2 232C490.6 235.1 489.6 238.3 489.3 241.3C489 244.3 489.4 248.6 489.5 250" fill="none" stroke="#a50d19" stroke-width="0.6"/>
<path d="M494.1 222.7C493.9 224.2 493.6 228.9 493.1 232C492.6 235.1 491.5 238.5 491.2 241.3C490.9 244.2 491.3 247.8 491.3 249.1" fill="none" stroke="#a50d19" stroke-width="0.6"/>
<path d="M622.1 221.7C622.8 221.4 625.9 220.6 626.7 221.2C627.4 221.8 628.1 225.1 628.7 226.7C629.2 228.2 630.8 232.7 631.3 234.7C631.9 236.6 633.4 241.5 633.7 243.3C633.9 245.1 633.7 248.8 633.5 250C633.3 251.2 632.5 252.9 632 253.3C631.5 253.7 629.6 253.9 628.8 253.5C628 253.1 626 250.6 625.3 250C624.7 249.4 623.7 248.9 623.3 248C623 247.1 622.6 243.5 622.3 242C622 240.5 621 236.9 620.7 235.3C620.4 233.8 619.9 230 619.9 228.7C619.9 227.4 620.3 224.9 620.5 224.1C620.8 223.3 621.4 222.1 622.1 221.7Z" fill="#d7101c"/>
<path d="M623.3 222.7C623.6 224.2 624.1 228.9 624.8 232C625.5 235.1 626.6 238.1 627.3 241.3C628.1 244.6 628.9 249.7 629.2 251.3" fill="none" stroke="#a50d19" stroke-width="0.6"/>
<path d="M625.3 222.7C625.6 224.2 626.1 228.9 626.8 232C627.5 235.1 628.7 238.1 629.3 241.3C630 244.6 630.6 249.7 630.8 251.3" fill="none" stroke="#a50d19" stroke-width="0.6"/>
<rect x="453.6" y="170.6" width="10.6" height="20.6" rx="3.4" fill="#fff" stroke="#c04048" stroke-width="0.7"/>
<rect x="455.3" y="172.3" width="7.2" height="17.2" rx="2.4" fill="#d7101c"/>
<path d="M478 233.7L467 223L467 227.1L458 227.1L458 240.3L467 240.3L467 244.4Z" fill="#2cc7f4"/><rect x="453" y="227.1" width="3.2" height="13.2" fill="#2cc7f4"/><rect x="449" y="227.1" width="2.2" height="13.2" fill="#2cc7f4"/><rect x="445.8" y="227.1" width="1.4" height="13.2" fill="#2cc7f4"/><rect x="442.6" y="227.1" width="1.2" height="13.2" fill="#2cc7f4"/>
<path d="M637.2 233.7L648.2 223L648.2 227.1L657.2 227.1L657.2 240.3L648.2 240.3L648.2 244.4Z" fill="#2cc7f4"/><rect x="659" y="227.1" width="3.2" height="13.2" fill="#2cc7f4"/><rect x="664" y="227.1" width="2.2" height="13.2" fill="#2cc7f4"/><rect x="668" y="227.1" width="1.4" height="13.2" fill="#2cc7f4"/><rect x="671.4" y="227.1" width="1.2" height="13.2" fill="#2cc7f4"/>
<circle cx="651" cy="212.4" r="7.4" fill="none" stroke="#2cc7f4" stroke-width="1"/><text x="651" y="217.1" font-size="13" text-anchor="middle" fill="#2cc7f4" font-family="Liberation Sans,sans-serif">2</text>
</g>
<g id="p3" clip-path="url(#c3)">
<g transform="translate(-248.9 423.06) scale(0.862)"><g fill="none" stroke="#444" stroke-width="0.8700696055684455" stroke-linecap="round" stroke-linejoin="round"><path d="M446.2 18C446.5 25.5 447.2 50.2 448 63C448.8 75.8 449.8 83.7 451 95C452.2 106.3 453.2 120.3 455 131C456.8 141.7 459.2 151.3 462 159C464.8 166.7 468.3 172.5 472 177C475.7 181.5 480.7 184.3 484 186C487.3 187.7 490.7 187.2 492 187.4"/><path d="M492.8 18C492.8 25.5 492.9 54.3 493 63C493.1 71.7 493.5 68.8 493.6 70"/><path d="M664.4 18C664 25.5 662.7 50.2 662 63C661.3 75.8 661 83.7 660 95C659 106.3 657.8 120.3 656 131C654.2 141.7 652 151.3 649 159C646 166.7 641.8 172.3 638 177C634.2 181.7 628 185.3 626 187"/><path d="M617.4 18C617.3 25.5 616.8 53.2 616.6 63C616.4 72.8 616.1 74.7 616 77"/><path d="M492 187.4C489.3 187.6 481 187.3 476 188.6C471 189.9 465.7 193.1 462 195C458.3 196.9 456.7 196.5 454 200C451.3 203.5 448 209.3 446 216C444 222.7 443.5 231 442 240C440.5 249 438.3 261 437 270C435.7 279 434.4 287 434.4 294C434.4 301 435.7 306 437 312C438.3 318 440.8 325.5 442 330C443.2 334.5 444 337.5 444.4 339"/><path d="M626 187C628.3 187.7 636 189 640 191C644 193 648 197.5 650 199C652 200.5 650 197.5 652 200C654 202.5 659.5 209 662 214C664.5 219 665.5 224 667 230C668.5 236 669.7 243.3 671 250C672.3 256.7 674 263.3 675 270C676 276.7 676.8 285 677 290C677.2 295 676.8 296 676 300C675.2 304 673.3 309 672 314C670.7 319 669 325.8 668 330C667 334.2 666.3 337.5 666 339"/><path d="M435 302C437.5 303 444.8 306.5 450 308C455.2 309.5 461.2 310.3 466 311C470.8 311.7 476.8 311.8 479 312"/><path d="M676 294C675 295.5 673 300.7 670 303C667 305.3 663 306.7 658 308C653 309.3 646.3 309.9 640 311C633.7 312.1 623.3 313.8 620 314.4"/><path d="M498 194C496.7 195.7 492.2 199.7 490 204C487.8 208.3 486.3 214 485 220C483.7 226 483 231.7 482 240C481 248.3 479.7 261 479 270C478.3 279 478 287 478 294C478 301 478.3 306 479 312C479.7 318 481.1 325.5 482 330C482.9 334.5 484 337.5 484.4 339"/><path d="M500 196C499 197.7 495.8 201.7 494 206C492.2 210.3 489.8 219.3 489 222"/></g></g>
<path d="M272.3 481L286 481L286 495.5L282.7 492.3L274 485.3L272.3 484.2Z" fill="#231815"/>
<rect x="271.4" y="473.5" width="15.1" height="8" fill="#b5121f"/>
<rect x="268" y="471.8" width="22.5" height="4.8" rx="1.2" fill="#d30f1c"/>
<rect x="271.8" y="474.4" width="14.3" height="2.3" fill="#e5131f"/>
<path d="M273 479.7H274.2M276.4 479.7H283.3M284.2 479.7H285.2" stroke="#f0a0a6" stroke-width="0.6" fill="none"/>
<rect x="142.3" y="570.2" width="9.2" height="17.8" rx="2.6" fill="#fff" stroke="#bbb" stroke-width="0.5"/>
<rect x="143.6" y="570.8" width="6.4" height="16.6" rx="1.8" fill="#de1f2b"/>
<g transform="translate(-248.9 423.06) scale(0.862)"><g fill="none" stroke="#444" stroke-width="0.8700696055684455" stroke-linecap="round" stroke-linejoin="round"><path d="M518.3 65.1C518.5 65.8 519 68.4 519.6 69.6C520.1 70.7 520.8 71.4 521.4 72C522.1 72.6 522.7 72.2 523.3 73.3C523.9 74.4 523 76.1 524.8 78.5C526.6 81 531 85.2 534.1 87.9C537.2 90.5 540.7 93 543.5 94.4C546.3 95.8 548.1 96.1 550.9 96.3C553.7 96.4 557.2 96.1 560.3 95.3C563.4 94.6 567.1 93.5 569.6 91.6C572.1 89.7 573.6 86.9 575.2 84.1C576.8 81.3 577.8 77.9 578.9 74.8C580 71.7 581.3 67 581.7 65.5"/><path d="M522 65.1C522.5 66.4 523.4 70.4 524.8 72.9C526.2 75.5 527.9 77.8 530.4 80.4C532.9 83 536.3 86.8 539.7 88.8C543.2 90.8 547.2 92.2 550.9 92.5C554.7 92.8 558.7 92.1 562.1 90.7C565.6 89.3 569.1 86.8 571.5 84.1C573.8 81.5 574.9 77.9 576.1 74.8C577.4 71.7 578.5 67 578.9 65.5"/><path d="M525.7 65.1C526.2 66.2 527.1 69.6 528.5 72C529.9 74.4 531.6 77 534.1 79.5C536.6 82 540.5 85.2 543.5 86.9C546.4 88.6 548.8 89.6 551.9 89.7C555 89.9 559.2 89.3 562.1 87.9C565.1 86.5 567.6 83.8 569.6 81.3C571.6 78.8 573.1 75.6 574.3 72.9C575.4 70.3 576.3 66.7 576.7 65.5"/><path d="M507 12C507.6 13.6 509.2 17.6 510.8 21.4C512.4 25.1 514.4 30.1 516.3 34.5C518.2 38.9 519.8 43.5 522 47.5C524.2 51.5 526.6 55.5 529.4 58.8C532.2 62.1 535.8 65.2 538.8 67.1C541.8 68.9 544.4 70.1 547.2 69.9C550 69.8 552.7 68.2 555.6 66.2C558.5 64.2 562.1 60.1 564.9 57.8C567.7 55.5 571.1 53.1 572.3 52.2"/><path d="M572.3 52.2C572.8 50.2 574.2 43.4 575.2 40.1C576.2 36.8 577.1 36.6 578 32.6C578.9 28.6 580.1 18.8 580.5 16"/><path d="M577 53.1C577.5 50.9 579 43.2 579.8 40.1C580.6 37 581.4 35.4 581.7 34.5"/><path d="M518.3 65.1C518.1 64.2 516.7 61.2 517.3 60C517.9 58.8 520.4 57.9 522 57.6C523.6 57.3 526.2 57.9 527 58"/><path d="M522 65C521.9 64.4 521.1 62.3 521.6 61.5C522.1 60.7 524.4 60.2 525 60"/><path d="M581.7 65.5C581.4 64.1 580.8 58.9 580 57C579.2 55.1 578.3 54.6 577 54C575.7 53.4 573.1 53.2 572.3 53.1"/><path d="M578.9 65.5C578.7 64.4 578.3 60.5 577.5 59C576.7 57.5 574.6 56.9 574 56.5"/><path d="M518.3 65.5L508 66.4"/><path d="M581.7 65.5C583.4 65.6 588.7 65.5 592 66.4C595.3 67.3 599.3 69 601.3 71.1C603.4 73.1 603.6 74.5 604.1 78.5C604.7 82.6 604.8 90 604.7 95.3C604.6 100.6 604.1 106.5 603.6 110.3C603 114 602.8 116 601.3 117.7C599.9 119.4 596.1 119.3 594.8 120.5C593.5 121.8 593.6 123.2 593.5 125.2C593.4 127.2 593.6 129.6 594.2 132.7C594.9 135.8 596.6 140.4 597.6 143.9C598.6 147.3 600.1 149.5 600.4 153.2C600.7 156.9 600.1 162.2 599.5 166.3C598.8 170.3 597.9 174.4 596.7 177.5C595.4 180.6 593.1 183.4 592 184.9C590.9 186.5 590.4 186.5 590.1 186.8"/><path d="M600 69C601.7 70 606.7 72 610 75C613.3 78 617.5 82 620 87C622.5 92 623.8 98.7 625 105C626.2 111.3 626.3 118.3 627 125C627.7 131.7 628.3 139 629 145C629.7 151 631 156 631 161C631 166 630.2 170.3 629 175C627.8 179.7 625.8 184.3 624 189C622.2 193.7 619.2 201.2 618 203C616.8 204.8 616.9 200.2 616.7 199.7"/><path d="M594.8 121.5C596.8 121.8 603.7 123.2 606.9 123.3C610.2 123.5 613.2 122.6 614.4 122.4"/><path d="M595.7 125.6C598.2 126.8 606.3 130.7 610.7 132.7C615 134.6 620 136.6 621.9 137.3"/><path d="M596.7 131.2C599 132.4 606.1 136.1 610.7 138.3C615.2 140.4 621.9 143.2 624.1 144.2"/><path d="M583.6 152.3C585 151.8 590.1 151.5 592 149.5C593.9 147.4 594.3 141.7 594.8 140.1"/><path d="M573.3 167.2C575.8 166.4 583.9 164.6 588.3 162.5C592.6 160.5 597.3 157 599.5 155.1C601.6 153.1 601 151.6 601.3 151"/><path d="M592 172.2C592.8 171 595.4 167.6 596.7 164.8C597.9 161.9 599 156.7 599.5 155.1"/><path d="M599.5 151.3C600.1 152.6 601.3 156.9 603.2 158.8C605.1 160.7 609.4 162.2 610.7 162.9"/><path d="M602 163C602.7 164.3 604.3 167.7 606 171C607.7 174.3 611 181 612 183"/><path d="M620 180C620.2 177.8 619.7 171.5 621 167C622.3 162.5 626.8 155.3 628 153"/><path d="M625 177L629 172"/><path d="M530.7 170C531.7 171.6 535 176 536.7 179.3C538.3 182.7 540 188.2 540.7 190"/><path d="M536.7 178.7C540 179.3 550 181.3 556.7 182.7C563.3 184 571.1 186.2 576.7 186.7C582.2 187.1 587.8 185.4 590 185.3C592.2 185.2 590.1 185.9 590.1 186.1"/><path d="M540.7 190.7C543.3 191.1 551.3 192.6 556.7 193.3C562 194.1 567.3 194.9 572.7 195.3C578 195.8 584.9 196 588.7 196C592.4 196 594.2 195.4 595.3 195.3"/><path d="M555.3 183.3C555.6 184 556.1 186.2 556.7 187.3C557.2 188.4 558.3 189.6 558.7 190"/><path d="M554.3 183.4C554.5 184.3 555.1 187.4 555.6 188.7C556.1 189.9 557.2 190.5 557.5 190.9"/><path d="M608.7 205.7C609.3 207.2 610.9 211.2 612.7 215C614.4 218.8 618.2 226.1 619.3 228.3"/><path d="M615.3 201.7C616.2 203.4 619.2 209.1 620.7 212.3C622.1 215.6 623.4 219.6 624 221"/><path d="M612 205.7C612.8 207.9 615.2 215.2 616.7 219C618.1 222.8 620 226.8 620.7 228.3"/><path d="M616.7 199.7C618 197.8 622.7 191.3 624.7 188.3C626.7 185.3 628 182.8 628.7 181.7"/><path d="M612 219L612.1 233.7"/><path d="M590 196.7C588.9 197.8 585.6 200.9 583.3 203.3C581.1 205.8 578.3 208.4 576.7 211.3C575 214.2 574 218.2 573.3 220.7C572.7 223.1 573 225.1 572.9 226"/><path d="M562 220C562 221.7 562.2 226.3 562.1 230C562.1 233.7 561.7 237.6 561.7 242C561.6 246.4 561.3 252.7 561.7 256.7C562 260.7 562.7 263.3 563.7 266C564.7 268.7 566.9 271.6 567.7 272.9C568.4 274.3 567.1 272.5 568 274C568.9 275.5 570.7 279.1 573.3 282C576 284.9 580.1 288.4 584 291.3C587.9 294.2 594.6 298 596.7 299.3"/><path d="M559.8 242C559.8 244.4 559.5 252.8 559.8 256.7C560.1 260.5 561.4 263.6 561.7 264.9"/><path d="M559.8 243.3L561.7 243.3"/><path d="M559.8 246.3L561.7 246.3"/><path d="M559.8 249.2L561.7 249.2"/><path d="M559.8 252.1L561.7 252.1"/><path d="M559.8 255.1L561.7 255.1"/><path d="M561.1 264.9L563.5 263.3"/><path d="M562.5 266.8L564.9 265.2"/><path d="M563.8 268.7L566.2 267.1"/><path d="M561.4 235.3C560.3 237.1 557.2 242 555 246C552.8 250 550.8 254.2 548.3 259.3C545.9 264.4 541.7 273.8 540.3 276.7"/><path d="M560.3 266.3C559.7 268 558.2 272.6 556.3 276.7C554.4 280.7 550.2 288.3 549 290.7"/><path d="M567.3 272.9C567.2 275.8 567.5 283.8 567 290C566.5 296.2 565.4 303.6 564.3 310C563.2 316.4 561.2 324.4 560.3 328.7C559.4 332.9 559.2 334.2 559 335.3"/><path d="M568.3 274C568.8 276.7 570 284 571 290C572 296 573.1 303.6 574.3 310C575.6 316.4 577.7 324.4 578.7 328.7C579.6 332.9 579.8 334.2 580 335.3"/><path d="M500.3 256.7C500 257 499.2 256.9 498.3 258.7C497.4 260.4 495.8 264.3 495 267.3C494.2 270.3 493.9 272.9 493.7 276.7C493.4 280.4 493.6 286.2 493.7 290C493.8 293.8 494 295.6 494.3 299.3C494.7 303.1 495.1 307.8 495.7 312.7C496.3 317.6 497.4 324.9 497.9 328.7C498.5 332.4 498.8 334.2 499 335.3"/><path d="M494.3 299.3C495.3 301.3 498.1 307.3 500.3 311.3C502.6 315.3 506.4 321.3 507.7 323.3"/><path d="M497 244.7C497.2 245.8 498 249.1 498.3 251.3C498.7 253.6 498.9 256.9 499 258"/><path d="M499.7 246C499.9 247.1 500.7 251 501 252.7C501.3 254.3 501.6 255.4 501.7 256"/><path d="M501.7 248L503.7 252"/><path d="M498.3 258.7C499.1 257.8 501.7 254.8 503 253.3C504.3 251.9 505 250.1 506.3 250C507.7 249.9 509.7 251.6 511 252.7C512.3 253.8 513.4 254.7 514.3 256.7C515.2 258.7 515.3 261.8 516.3 264.7C517.3 267.6 518.7 270.9 520.3 274C522 277.1 525.3 281.8 526.3 283.3"/><path d="M497 230C498.2 231.6 501.6 236.3 504.3 239.3C507.1 242.3 512.1 246.6 513.7 248"/><path d="M622 252.7C621.2 254.2 618.4 258.7 617.3 262C616.2 265.3 615.6 269.3 615.3 272.7C615.1 276 616.3 279.2 616 282C615.7 284.8 613.8 288.1 613.3 289.3"/><path d="M620.7 256.7C620.4 258.4 619.3 263.3 619.3 267.3C619.3 271.3 620.2 276.4 620.7 280.7C621.1 284.9 621.8 289.2 622 292.7C622.2 296.1 622 299.9 622 301.3"/><path d="M620.7 262C621.7 264.4 624.6 271.6 626.7 276.7C628.8 281.8 631.3 287.8 633.3 292.7C635.3 297.6 637.2 302.2 638.7 306C640.1 309.8 641.3 312.7 642 315.3C642.7 318 642.9 319.8 642.7 322C642.4 324.2 641.2 326.4 640.7 328.7C640.1 330.9 639.6 334.2 639.3 335.3"/><path d="M629.3 254.7C629.4 257.2 629.6 264.8 630 270C630.4 275.2 631.4 282.2 632 286C632.6 289.8 633.1 291.6 633.3 292.7"/><path d="M612.7 230L612.8 234"/><path d="M515.5 124.5C516.6 123.7 520.1 120.8 522 120C523.9 119.2 526.2 119.7 527 119.6"/></g><path d="M578.6 14L585.8 14L585.4 21L584.5 32.6L582.6 44L580.9 34.5L580 24Z" fill="#1a1a1a"/></g>
<path d="M261 443C260.7 443.7 260.3 445.3 259 448.2C257.7 451.1 253.8 460.8 251.4 465C249 469.2 244.1 475.5 241 479.4C237.9 483.3 231.9 489.8 228 494.5C224.1 499.2 216.4 509.6 212 514.8C207.6 520 198.9 528.8 194.8 533.2C190.7 537.6 184.8 543.8 181 547.6C177.2 551.4 172.3 556.1 166 562C159.7 567.9 142.1 583.7 133.4 591.6C124.7 599.5 105.1 617.3 100.7 621.3L101.3 635.6C103.7 633.5 113.4 625.4 119.3 620C125.2 614.6 138.4 601.7 145.3 595C152.2 588.3 166.1 575 171.3 570C176.5 565 180.6 560.8 184 557.5C187.4 554.2 192 549.9 196.8 545.2C201.6 540.5 214.6 527.4 220 522C225.4 516.6 233.5 508.9 237 505C240.5 501.1 243.9 496.6 246.6 493C249.3 489.4 254.5 481.7 257 477.8C259.5 473.9 263 467.3 265 463.4C267 459.5 270.9 450.9 272.2 448.2C273.5 445.5 274.2 443.7 274.5 443Z" fill="#ea837d" stroke="#8a3a33" stroke-width="0.5" stroke-linejoin="round"/>
<g transform="translate(-248.9 423.06) scale(0.862)"><g fill="#fff" stroke="none"><path d="M508 66.4C506.8 67.1 503.3 69.3 500.5 70.7C497.7 72.1 493.8 72.9 491.2 74.8C488.6 76.7 486.4 79.2 484.7 82.3C483 85.4 481.7 89.7 480.9 93.5C480.2 97.2 479.8 100.3 480 104.7C480.2 109 481.1 114.9 481.9 119.6C482.6 124.3 484.8 128.9 484.7 132.7C484.5 136.4 481.7 139.2 480.9 142C480.2 144.8 479.8 147 480 149.5C480.2 152 481.3 154.8 482.2 156.9C483.2 159.1 484.6 159.7 485.6 162.5C486.6 165.3 487.5 170 488.4 173.7C489.3 177.5 489.5 181.5 491.2 184.9C492.9 188.4 497.4 192.7 498.7 194.3L539.7 192.4C539.3 191.2 537.9 187.4 536.9 184.9C536 182.4 535.5 180 534.1 177.5C532.7 175 530.9 172.5 528.5 170C526.2 167.5 521.8 165 520.1 162.5C518.4 160 518.7 157.9 518.3 155.1C517.8 152.3 517.8 149.5 517.3 145.7C516.9 142 516.1 137 515.5 132.7C514.8 128.3 514.5 123.3 513.6 119.6C512.7 115.9 511.3 113.7 509.9 110.3C508.5 106.8 506.6 103.1 505.2 99.1C503.8 95 502.4 90.4 501.5 86C500.5 81.6 499.9 75.1 499.6 72.9Z"/></g><g fill="none" stroke="#444" stroke-width="0.8700696055684455" stroke-linecap="round" stroke-linejoin="round"><path d="M508 66.4C506.8 67.1 503.3 69.3 500.5 70.7C497.7 72.1 493.8 72.9 491.2 74.8C488.6 76.7 486.4 79.2 484.7 82.3C483 85.4 481.7 89.7 480.9 93.5C480.2 97.2 479.8 100.3 480 104.7C480.2 109 481.1 114.9 481.9 119.6C482.6 124.3 484.8 128.9 484.7 132.7C484.5 136.4 481.7 139.2 480.9 142C480.2 144.8 479.8 147 480 149.5C480.2 152 481.3 154.8 482.2 156.9C483.2 159.1 484.6 159.7 485.6 162.5C486.6 165.3 487.5 170 488.4 173.7C489.3 177.5 489.5 181.5 491.2 184.9C492.9 188.4 497.4 192.7 498.7 194.3"/><path d="M499.6 72.9C499.9 75.1 500.5 81.6 501.5 86C502.4 90.4 503.8 95 505.2 99.1C506.6 103.1 508.5 106.8 509.9 110.3C511.3 113.7 512.7 115.9 513.6 119.6C514.5 123.3 514.8 128.3 515.5 132.7C516.1 137 516.9 142 517.3 145.7C517.8 149.5 517.8 152.3 518.3 155.1C518.7 157.9 518.4 160 520.1 162.5C521.8 165 526.2 167.5 528.5 170C530.9 172.5 532.7 175 534.1 177.5C535.5 180 536 182.4 536.9 184.9C537.9 187.4 539.3 191.2 539.7 192.4"/><path d="M495.9 75.7C495.6 76.5 494.7 78.8 494.6 80.4C494.4 82 494.9 84.3 494.9 85.1"/><path d="M497.7 74.8C497.6 75.7 496.9 78.5 496.8 80.4C496.7 82.3 497.1 85.4 497.2 86.4"/><path d="M499.4 76.7C499.3 77.6 498.8 80.4 498.7 82.3C498.6 84.1 498.8 86.9 498.9 87.9"/><path d="M500.5 116.2C501.8 115.7 506.3 114.6 508 113.3C509.7 111.9 510.5 108.9 511 108"/><path d="M487.5 151.3C489.3 150.4 495.2 147.9 498.7 145.7C502.1 143.6 505.9 141.1 508 138.3C510.1 135.5 510.5 130.5 511 128.9"/><path d="M485.6 157.3C487.8 156.4 494.8 153.4 498.7 151.7C502.6 150 506.8 147.7 508.9 147.2C511.1 146.8 511.6 148.4 511.7 149.1C511.9 149.8 510.2 151 509.9 151.3"/><path d="M488.4 174.7C490.4 173.9 496.3 172 500.5 170C504.7 168 510.6 164.8 513.6 162.5C516.6 160.3 517.8 157.6 518.6 156.6"/><path d="M518.3 155.1C518.5 155.9 519.6 158.4 519.6 160.3C519.6 162.2 518.5 165.3 518.3 166.3"/></g></g>
<path d="M92 624.8L86.7 627.5L81.4 628C79 629.2 78 630.4 78 631.8C78 633.4 79.2 634.8 81.4 635.5L87.8 635.6L92 635Z" fill="#fff" stroke="#555" stroke-width="0.6"/>
<rect x="80.3" y="630.1" width="6" height="3.2" rx="1.6" fill="#fff" stroke="#555" stroke-width="0.55"/>
<rect x="91" y="621.2" width="10.2" height="15.2" fill="#ea837d" stroke="#8a3a33" stroke-width="0.5"/>
<path d="M92.1 624.8L99 622.7L99.8 635.4L92.1 635Z" fill="none" stroke="#fff" stroke-width="0.9"/>
<path d="M119.3 620C122.9 620 143.8 619.7 150 619.6C156.2 619.5 169 619.4 172.7 619C176.4 618.6 178.8 617.1 181.7 616.6C184.6 616.1 192.6 614.6 197.7 614.3C202.8 614 219.4 613.9 225 613.8C230.6 613.7 240.8 613.8 245.7 613.8C250.6 613.8 263.4 613.8 267 614C270.6 614.2 274.6 614.8 276.6 615.2C278.6 615.6 282.3 616.8 283.8 617.6C285.3 618.4 288.6 621.3 289.2 621.8L291.5 632.5C290.7 632.1 286.7 629.6 285 629C283.3 628.4 278.7 627.5 276.6 627.2C274.5 626.9 270.3 626.8 267 626.8C263.7 626.8 253.3 627.3 248.3 627.6C243.3 627.9 230.3 628.6 224.3 629C218.3 629.4 201.8 630.5 197 630.8C192.2 631.1 186.6 631.3 183.3 631.8C180 632.3 173.8 634.9 168.7 635.3C163.6 635.7 147.9 635.5 140 635.6C132.1 635.7 105.8 635.8 101.3 635.8Z" fill="#ea837d" stroke="#8a3a33" stroke-width="0.5" stroke-linejoin="round"/>
<path d="M305.7 590C305.9 591.5 307.1 602.3 307.2 605C307.3 607.7 307 615 306.6 617C306.2 619 303.9 624 303 625.4C302.1 626.8 298.4 631.9 297.5 631.4C296.6 630.9 293.6 622.2 294 620.6C294.4 619 300.2 616.4 301.2 615.2C302.2 614 303.2 610.2 303.6 608.6C304 607 304.6 600.9 304.8 599C305 597.1 305.2 590.9 305.3 590C305.4 589.1 305.5 588.5 305.7 590Z" fill="#ea837d" stroke="#8a3a33" stroke-width="0.5" stroke-linejoin="round"/>
<path d="M305.4 572L305.5 590.5" stroke="#555" stroke-width="0.6" fill="none"/>
<g transform="translate(-248.9 423.06) scale(0.862)"><g fill="#fff" stroke="none"><path d="M518.7 206.7C516.6 209.3 520.1 212.1 520 214C519.9 215.9 518.6 218.9 518 220.7C517.4 222.4 515.6 225.7 515.3 227.3C515.1 228.9 515.6 231.7 516 232.7C516.4 233.6 518 234.8 518.7 234.3C519.4 233.7 520.8 230.1 521.3 228.7C521.9 227.2 522 222.8 522.7 223.3C523.3 223.9 525.3 230.9 526 232.7C526.7 234.4 527.4 236.2 528 236.7C528.6 237.1 530.1 236.9 530.7 236.3C531.2 235.6 532.2 234.3 532 232C531.8 229.7 528.9 219.4 529.3 219.3C529.8 219.2 534.2 229.1 535.3 231.3C536.5 233.6 537.1 235.4 538 236C538.9 236.6 541.4 236.2 542 235.6C542.6 235 543.5 234.1 542.7 231.3C541.9 228.5 535.6 215.4 536 214.7C536.4 214 544.2 224 546 226C547.8 228 548.4 229.6 549.3 230C550.3 230.4 552.9 229.6 553.3 228.9C553.8 228.2 554.1 227.8 552.7 224.7C551.2 221.5 542.8 206.6 542.7 205.3C542.5 204.1 549.6 213.7 551.3 215.3C553 217 554.7 217.6 555.3 217.5C556 217.3 556.6 215.4 556.1 214C555.7 212.6 553.4 209.1 552 207.3C550.6 205.6 547.6 202.1 546 200.7C544.4 199.2 541.4 197.6 540 196.7C538.6 195.8 538.2 192.7 535.3 194C532.5 195.3 520.7 204 518.7 206.7Z"/><path d="M512.7 195.3L519.3 188.7L527.3 184L535.3 185.3L540 190L540.7 192L536.7 194.7L532.7 192L526 192.7L518.7 196.7L516.7 202L513.3 200.7Z"/><path d="M589.3 187.7L596.7 189L607.3 195L615.3 201L612.7 203.7L608.7 205L602 199.7L592.7 195L588.7 193Z"/><path d="M591.3 195.7C589.2 196.1 585.1 202.1 583.3 204.3C581.5 206.6 577.2 212.7 576 215C574.8 217.3 573 222.5 572.7 224.3C572.4 226.1 572.9 229.6 573.3 230.3C573.8 231.1 576 231 576.7 230.6C577.3 230.2 578.7 226.3 578.7 227C578.7 227.7 576.9 234.6 576.7 236.3C576.4 238 576.4 240.9 576.7 241.7C577 242.5 578.9 243.3 579.3 243.3C579.8 243.3 580.4 241.2 580.4 241.7C580.4 242.1 579.2 246 579.3 247C579.4 248 580.8 250.3 581.3 250.5C581.9 250.7 583.6 249 584.1 248.6C584.7 248.2 585.5 246.9 586 247C586.5 247.1 587.4 249.1 588 249.1C588.6 249.2 590.7 248 591.3 247.3C592 246.6 592.8 243.3 593.3 243C593.9 242.7 595.4 244.7 596 244.6C596.6 244.5 598.4 243.2 598.8 241.9C599.2 240.7 599 235.6 599.3 233.7C599.7 231.8 601.4 227.8 602 225.7C602.6 223.5 604.3 217.3 604.7 215C605.1 212.7 605.6 207.4 605.3 205.7C605 204 603.6 201.5 602 200.3C600.4 199.2 593.5 195.2 591.3 195.7Z"/></g><g fill="none" stroke="#444" stroke-width="0.8700696055684455" stroke-linecap="round" stroke-linejoin="round"><path d="M512.7 195.3C513.8 194.2 516.9 190.6 519.3 188.7C521.8 186.8 524.7 184.6 527.3 184C530 183.4 533.2 184.3 535.3 185.3C537.4 186.3 539.1 188.9 540 190C540.9 191.1 540.6 191.7 540.7 192"/><path d="M516.7 202C517 201.1 517.1 198.2 518.7 196.7C520.2 195.1 523.7 193.4 526 192.7C528.3 191.9 530.9 191.7 532.7 192C534.4 192.3 536 194.2 536.7 194.7"/><path d="M512.7 195.3C512.8 196.2 512.6 198.9 513.3 200.7C514.1 202.4 516.7 205.1 517.3 206"/><path d="M518.7 206.7C518.8 207.6 520.1 212.1 520 214C519.9 215.9 518.6 218.9 518 220.7C517.4 222.4 515.6 225.7 515.3 227.3C515.1 228.9 515.6 231.7 516 232.7C516.4 233.6 518 234.8 518.7 234.3C519.4 233.7 520.8 230.1 521.3 228.7C521.9 227.2 522 222.8 522.7 223.3C523.3 223.9 525.3 230.9 526 232.7C526.7 234.4 527.4 236.2 528 236.7C528.6 237.1 530.1 236.9 530.7 236.3C531.2 235.6 532.2 234.3 532 232C531.8 229.7 528.9 219.4 529.3 219.3C529.8 219.2 534.2 229.1 535.3 231.3C536.5 233.6 537.1 235.4 538 236C538.9 236.6 541.4 236.2 542 235.6C542.6 235 543.5 234.1 542.7 231.3C541.9 228.5 535.6 215.4 536 214.7C536.4 214 544.2 224 546 226C547.8 228 548.4 229.6 549.3 230C550.3 230.4 552.9 229.6 553.3 228.9C553.8 228.2 554.1 227.8 552.7 224.7C551.2 221.5 542.8 206.6 542.7 205.3C542.5 204.1 549.6 213.7 551.3 215.3C553 217 554.7 217.6 555.3 217.5C556 217.3 556.6 215.4 556.1 214C555.7 212.6 553.4 209.1 552 207.3C550.6 205.6 547.6 202.1 546 200.7C544.4 199.2 541.4 197.6 540 196.7C538.6 195.8 536 194.4 535.3 194"/><path d="M589.3 187.7C590.6 187.9 593.7 187.8 596.7 189C599.7 190.2 604.2 193 607.3 195C610.4 197 614 200 615.3 201"/><path d="M588.7 193C589.3 193.3 590.4 193.9 592.7 195C594.9 196.1 599.3 198 602 199.7C604.7 201.3 607.6 204.1 608.7 205"/><path d="M589.3 187.7L588.7 193"/><path d="M615.3 201C614.9 201.4 613.8 202.9 612.7 203.7C611.6 204.4 609.3 205.1 608.7 205.4"/><path d="M591.3 195.7C590.3 196.8 585.4 201.8 583.3 204.3C581.3 206.9 577.4 212.3 576 215C574.6 217.7 573 222.3 572.7 224.3C572.3 226.4 572.8 229.5 573.3 230.3C573.9 231.2 575.8 231.6 576.7 230.6C577.6 229.6 579.1 225.3 580 223C580.9 220.7 582.9 214.9 583.3 213.7"/><path d="M580.7 225.7C580.1 227.1 577.2 234.2 576.7 236.3C576.1 238.5 576.3 240.7 576.7 241.7C577 242.6 578.4 244.2 579.3 243.3C580.2 242.4 582.3 237.2 583.3 235C584.4 232.8 586.8 228.1 587.3 227"/><path d="M583.3 235C582.8 236.6 579.6 244.9 579.3 247C579.1 249.1 580.7 250.3 581.3 250.5C582 250.7 583 250.5 584.1 248.6C585.3 246.7 588.9 238.9 590 236.3C591.1 233.8 592.3 230.6 592.7 229.7"/><path d="M588.7 240.3C588.3 241.2 586.1 245.8 586 247C585.9 248.2 587.3 249.1 588 249.1C588.7 249.2 590.4 248.6 591.3 247.3C592.2 245.9 594 241.2 594.7 239C595.4 236.8 596.4 232.1 596.7 231"/><path d="M594.7 239C594.5 239.5 593.2 242.3 593.3 243C593.5 243.7 595.3 244.7 596 244.6C596.7 244.5 598.4 243.4 598.8 241.9C599.2 240.5 598.9 235.8 599.3 233.7C599.8 231.5 601.3 228.2 602 225.7C602.7 223.2 604.2 217.7 604.7 215C605.1 212.3 605.2 206.9 605.3 205.7"/><path d="M596.7 213.7C596.8 216.1 596.9 225 597.3 228.3C597.8 231.7 599 232.8 599.3 233.7"/></g><g fill="#fff" stroke="#444" stroke-width="0.65"><ellipse cx="529.3" cy="234" rx="1.6" ry="1.9" transform="rotate(-20 529.3 234)"/><ellipse cx="539.3" cy="233.5" rx="1.6" ry="1.9" transform="rotate(-20 539.3 233.5)"/><ellipse cx="550.7" cy="227.6" rx="1.6" ry="1.9" transform="rotate(-35 550.7 227.6)"/><ellipse cx="554.7" cy="214.8" rx="1.6" ry="1.9" transform="rotate(-50 554.7 214.8)"/><ellipse cx="574.8" cy="228.3" rx="1.5" ry="1.8" transform="rotate(10 574.8 228.3)"/><ellipse cx="578.3" cy="241.3" rx="1.5" ry="1.8" transform="rotate(20 578.3 241.3)"/><ellipse cx="581.7" cy="248.1" rx="1.5" ry="1.8" transform="rotate(25 581.7 248.1)"/><ellipse cx="588.7" cy="247.3" rx="1.5" ry="1.8" transform="rotate(30 588.7 247.3)"/><ellipse cx="596.7" cy="242.5" rx="1.5" ry="1.8" transform="rotate(40 596.7 242.5)"/></g></g>
<path d="M175.3 613.3L177 612.8L178.7 614.2L177.3 622L175.3 632.7L179.7 632L180.2 634.7L179 637.5L175 640.9L172.3 641.7L170 640L170 633.3L172.3 623.3Z" fill="#d0101b"/>
<path d="M177 614.5L173.6 628L172.4 640M175.6 614L172 628L171 638" stroke="#a50d19" stroke-width="0.5" fill="none"/>
<path d="M289.5 628C289.2 628.2 288.8 632.1 288.8 633C288.8 633.9 289.3 636.4 289.6 637C289.9 637.6 291.2 639.3 291.5 639.5C291.8 639.7 293 639.9 293 639C293 638.1 291.9 632.1 291.5 631C291.1 629.9 289.8 627.8 289.5 628Z" fill="#a50d19"/>
<path d="M288.2 613.6C288.4 612.9 289.8 612.6 290.2 612.6C290.6 612.6 292 612.7 292.4 613.4C292.8 614.1 293.8 618.3 294.2 620C294.6 621.7 295.9 628.3 296.2 630C296.5 631.7 297.2 636 297.2 637C297.2 638 296.9 640 296.6 640.4C296.3 640.8 294.6 641.3 294.2 641.2C293.8 641.1 292.8 640.6 292.4 639.5C292 638.4 290.6 632 290.2 630C289.8 628 288.2 621.6 288 620C287.8 618.4 288 614.3 288.2 613.6Z" fill="#d0101b"/>
<path d="M290.3 614.5L292.6 627L294.8 640" stroke="#a50d19" stroke-width="0.6" fill="none"/>
<path d="M183.2 590.4L184.7 586.4L185.5 589.4L185.9 592.6L185.8 595.7L185.4 598.8L184.5 601.8L183.2 604.6L181.5 607.2L179.6 609.6L177.3 611.6L174.7 613.3L172 614.7L169.1 615.7L166.1 616.2L163.1 616.4L160.1 616.1L157.2 615.5L154.4 614.4L151.8 613L149.4 611.2L147.3 609.2L145.4 606.8L144 604.3L142.8 601.6L142.1 598.7L143.6 598.4L144.4 601L145.5 603.4L147 605.7L148.8 607.7L150.8 609.5L153 610.9L155.4 612.1L157.9 612.9L160.5 613.3L163.1 613.4L165.7 613.2L168.2 612.5L170.6 611.6L172.9 610.3L174.9 608.8L176.7 607L178.3 604.9L179.5 602.7L180.4 600.4L181 597.9L181.3 595.4L181.2 592.9L180.8 590.5L180 588.1Z" fill="#2cc7f4"/><path d="M141.6 592.7L139.1 600.9L142.9 598.6L146.7 599.3Z" fill="#2cc7f4"/>
<circle cx="163.7" cy="598" r="6.4" fill="none" stroke="#2cc7f4" stroke-width="1"/><text x="163.7" y="602.1" font-size="11.5" text-anchor="middle" fill="#2cc7f4" font-family="Liberation Sans,sans-serif">4</text>
<path d="M330.5 592.1L332 588.1L332.8 591.1L333.2 594.3L333.1 597.4L332.7 600.5L331.8 603.5L330.5 606.3L328.8 608.9L326.9 611.3L324.6 613.3L322 615L319.3 616.4L316.4 617.4L313.4 617.9L310.4 618.1L307.4 617.8L304.5 617.2L301.7 616.1L299.1 614.7L296.7 612.9L294.6 610.9L292.7 608.5L291.3 606L290.1 603.3L289.4 600.4L290.9 600.1L291.7 602.7L292.8 605.1L294.3 607.4L296.1 609.4L298.1 611.2L300.3 612.6L302.7 613.8L305.2 614.6L307.8 615L310.4 615.1L313 614.9L315.5 614.2L317.9 613.3L320.2 612L322.2 610.5L324 608.7L325.6 606.6L326.8 604.4L327.7 602.1L328.3 599.6L328.6 597.1L328.5 594.6L328.1 592.2L327.3 589.8Z" fill="#2cc7f4"/><path d="M288.9 594.4L286.4 602.6L290.2 600.3L294 601Z" fill="#2cc7f4"/>
<circle cx="314.4" cy="600.2" r="6.4" fill="none" stroke="#2cc7f4" stroke-width="1"/><text x="314.4" y="604.3" font-size="11.5" text-anchor="middle" fill="#2cc7f4" font-family="Liberation Sans,sans-serif">3</text>
</g>
<g id="p4" clip-path="url(#c4)">
<g transform="translate(-13.3 426.2)"><g fill="none" stroke="#444" stroke-width="0.75" stroke-linecap="round" stroke-linejoin="round"><path d="M446.2 18C446.5 25.5 447.2 50.2 448 63C448.8 75.8 449.8 83.7 451 95C452.2 106.3 453.2 120.3 455 131C456.8 141.7 459.2 151.3 462 159C464.8 166.7 468.3 172.5 472 177C475.7 181.5 480.7 184.3 484 186C487.3 187.7 490.7 187.2 492 187.4"/><path d="M492.8 18C492.8 25.5 492.9 54.3 493 63C493.1 71.7 493.5 68.8 493.6 70"/><path d="M664.4 18C664 25.5 662.7 50.2 662 63C661.3 75.8 661 83.7 660 95C659 106.3 657.8 120.3 656 131C654.2 141.7 652 151.3 649 159C646 166.7 641.8 172.3 638 177C634.2 181.7 628 185.3 626 187"/><path d="M617.4 18C617.3 25.5 616.8 53.2 616.6 63C616.4 72.8 616.1 74.7 616 77"/><path d="M492 187.4C489.3 187.6 481 187.3 476 188.6C471 189.9 465.7 193.1 462 195C458.3 196.9 456.7 196.5 454 200C451.3 203.5 448 209.3 446 216C444 222.7 443.5 231 442 240C440.5 249 438.3 261 437 270C435.7 279 434.4 287 434.4 294C434.4 301 435.7 306 437 312C438.3 318 440.8 325.5 442 330C443.2 334.5 444 337.5 444.4 339"/><path d="M626 187C628.3 187.7 636 189 640 191C644 193 648 197.5 650 199C652 200.5 650 197.5 652 200C654 202.5 659.5 209 662 214C664.5 219 665.5 224 667 230C668.5 236 669.7 243.3 671 250C672.3 256.7 674 263.3 675 270C676 276.7 676.8 285 677 290C677.2 295 676.8 296 676 300C675.2 304 673.3 309 672 314C670.7 319 669 325.8 668 330C667 334.2 666.3 337.5 666 339"/><path d="M435 302C437.5 303 444.8 306.5 450 308C455.2 309.5 461.2 310.3 466 311C470.8 311.7 476.8 311.8 479 312"/><path d="M676 294C675 295.5 673 300.7 670 303C667 305.3 663 306.7 658 308C653 309.3 646.3 309.9 640 311C633.7 312.1 623.3 313.8 620 314.4"/><path d="M498 194C496.7 195.7 492.2 199.7 490 204C487.8 208.3 486.3 214 485 220C483.7 226 483 231.7 482 240C481 248.3 479.7 261 479 270C478.3 279 478 287 478 294C478 301 478.3 306 479 312C479.7 318 481.1 325.5 482 330C482.9 334.5 484 337.5 484.4 339"/><path d="M500 196C499 197.7 495.8 201.7 494 206C492.2 210.3 489.8 219.3 489 222"/></g></g>
<rect x="440.3" y="596.8" width="9" height="20" rx="2" fill="#f3b0b3"/>
<rect x="441" y="597.3" width="8" height="19" rx="1.6" fill="#d7101c"/>
<g transform="translate(-13.3 426.2)"><g fill="none" stroke="#444" stroke-width="0.75" stroke-linecap="round" stroke-linejoin="round"><path d="M518.3 65.1C518.5 65.8 519 68.4 519.6 69.6C520.1 70.7 520.8 71.4 521.4 72C522.1 72.6 522.7 72.2 523.3 73.3C523.9 74.4 523 76.1 524.8 78.5C526.6 81 531 85.2 534.1 87.9C537.2 90.5 540.7 93 543.5 94.4C546.3 95.8 548.1 96.1 550.9 96.3C553.7 96.4 557.2 96.1 560.3 95.3C563.4 94.6 567.1 93.5 569.6 91.6C572.1 89.7 573.6 86.9 575.2 84.1C576.8 81.3 577.8 77.9 578.9 74.8C580 71.7 581.3 67 581.7 65.5"/><path d="M522 65.1C522.5 66.4 523.4 70.4 524.8 72.9C526.2 75.5 527.9 77.8 530.4 80.4C532.9 83 536.3 86.8 539.7 88.8C543.2 90.8 547.2 92.2 550.9 92.5C554.7 92.8 558.7 92.1 562.1 90.7C565.6 89.3 569.1 86.8 571.5 84.1C573.8 81.5 574.9 77.9 576.1 74.8C577.4 71.7 578.5 67 578.9 65.5"/><path d="M525.7 65.1C526.2 66.2 527.1 69.6 528.5 72C529.9 74.4 531.6 77 534.1 79.5C536.6 82 540.5 85.2 543.5 86.9C546.4 88.6 548.8 89.6 551.9 89.7C555 89.9 559.2 89.3 562.1 87.9C565.1 86.5 567.6 83.8 569.6 81.3C571.6 78.8 573.1 75.6 574.3 72.9C575.4 70.3 576.3 66.7 576.7 65.5"/><path d="M507 12C507.6 13.6 509.2 17.6 510.8 21.4C512.4 25.1 514.4 30.1 516.3 34.5C518.2 38.9 519.8 43.5 522 47.5C524.2 51.5 526.6 55.5 529.4 58.8C532.2 62.1 535.8 65.2 538.8 67.1C541.8 68.9 544.4 70.1 547.2 69.9C550 69.8 552.7 68.2 555.6 66.2C558.5 64.2 562.1 60.1 564.9 57.8C567.7 55.5 571.1 53.1 572.3 52.2"/><path d="M572.3 52.2C572.8 50.2 574.2 43.4 575.2 40.1C576.2 36.8 577.1 36.6 578 32.6C578.9 28.6 580.1 18.8 580.5 16"/><path d="M577 53.1C577.5 50.9 579 43.2 579.8 40.1C580.6 37 581.4 35.4 581.7 34.5"/><path d="M518.3 65.1C518.1 64.2 516.7 61.2 517.3 60C517.9 58.8 520.4 57.9 522 57.6C523.6 57.3 526.2 57.9 527 58"/><path d="M522 65C521.9 64.4 521.1 62.3 521.6 61.5C522.1 60.7 524.4 60.2 525 60"/><path d="M581.7 65.5C581.4 64.1 580.8 58.9 580 57C579.2 55.1 578.3 54.6 577 54C575.7 53.4 573.1 53.2 572.3 53.1"/><path d="M578.9 65.5C578.7 64.4 578.3 60.5 577.5 59C576.7 57.5 574.6 56.9 574 56.5"/><path d="M518.3 65.5L508 66.4"/><path d="M581.7 65.5C583.4 65.6 588.7 65.5 592 66.4C595.3 67.3 599.3 69 601.3 71.1C603.4 73.1 603.6 74.5 604.1 78.5C604.7 82.6 604.8 90 604.7 95.3C604.6 100.6 604.1 106.5 603.6 110.3C603 114 602.8 116 601.3 117.7C599.9 119.4 596.1 119.3 594.8 120.5C593.5 121.8 593.6 123.2 593.5 125.2C593.4 127.2 593.6 129.6 594.2 132.7C594.9 135.8 596.6 140.4 597.6 143.9C598.6 147.3 600.1 149.5 600.4 153.2C600.7 156.9 600.1 162.2 599.5 166.3C598.8 170.3 597.9 174.4 596.7 177.5C595.4 180.6 593.1 183.4 592 184.9C590.9 186.5 590.4 186.5 590.1 186.8"/><path d="M600 69C601.7 70 606.7 72 610 75C613.3 78 617.5 82 620 87C622.5 92 623.8 98.7 625 105C626.2 111.3 626.3 118.3 627 125C627.7 131.7 628.3 139 629 145C629.7 151 631 156 631 161C631 166 630.2 170.3 629 175C627.8 179.7 625.8 184.3 624 189C622.2 193.7 619.2 201.2 618 203C616.8 204.8 616.9 200.2 616.7 199.7"/><path d="M594.8 121.5C596.8 121.8 603.7 123.2 606.9 123.3C610.2 123.5 613.2 122.6 614.4 122.4"/><path d="M595.7 125.6C598.2 126.8 606.3 130.7 610.7 132.7C615 134.6 620 136.6 621.9 137.3"/><path d="M596.7 131.2C599 132.4 606.1 136.1 610.7 138.3C615.2 140.4 621.9 143.2 624.1 144.2"/><path d="M583.6 152.3C585 151.8 590.1 151.5 592 149.5C593.9 147.4 594.3 141.7 594.8 140.1"/><path d="M573.3 167.2C575.8 166.4 583.9 164.6 588.3 162.5C592.6 160.5 597.3 157 599.5 155.1C601.6 153.1 601 151.6 601.3 151"/><path d="M592 172.2C592.8 171 595.4 167.6 596.7 164.8C597.9 161.9 599 156.7 599.5 155.1"/><path d="M599.5 151.3C600.1 152.6 601.3 156.9 603.2 158.8C605.1 160.7 609.4 162.2 610.7 162.9"/><path d="M602 163C602.7 164.3 604.3 167.7 606 171C607.7 174.3 611 181 612 183"/><path d="M620 180C620.2 177.8 619.7 171.5 621 167C622.3 162.5 626.8 155.3 628 153"/><path d="M625 177L629 172"/><path d="M530.7 170C531.7 171.6 535 176 536.7 179.3C538.3 182.7 540 188.2 540.7 190"/><path d="M536.7 178.7C540 179.3 550 181.3 556.7 182.7C563.3 184 571.1 186.2 576.7 186.7C582.2 187.1 587.8 185.4 590 185.3C592.2 185.2 590.1 185.9 590.1 186.1"/><path d="M540.7 190.7C543.3 191.1 551.3 192.6 556.7 193.3C562 194.1 567.3 194.9 572.7 195.3C578 195.8 584.9 196 588.7 196C592.4 196 594.2 195.4 595.3 195.3"/><path d="M555.3 183.3C555.6 184 556.1 186.2 556.7 187.3C557.2 188.4 558.3 189.6 558.7 190"/><path d="M554.3 183.4C554.5 184.3 555.1 187.4 555.6 188.7C556.1 189.9 557.2 190.5 557.5 190.9"/><path d="M608.7 205.7C609.3 207.2 610.9 211.2 612.7 215C614.4 218.8 618.2 226.1 619.3 228.3"/><path d="M615.3 201.7C616.2 203.4 619.2 209.1 620.7 212.3C622.1 215.6 623.4 219.6 624 221"/><path d="M612 205.7C612.8 207.9 615.2 215.2 616.7 219C618.1 222.8 620 226.8 620.7 228.3"/><path d="M616.7 199.7C618 197.8 622.7 191.3 624.7 188.3C626.7 185.3 628 182.8 628.7 181.7"/><path d="M612 219L612.1 233.7"/><path d="M590 196.7C588.9 197.8 585.6 200.9 583.3 203.3C581.1 205.8 578.3 208.4 576.7 211.3C575 214.2 574 218.2 573.3 220.7C572.7 223.1 573 225.1 572.9 226"/><path d="M562 220C562 221.7 562.2 226.3 562.1 230C562.1 233.7 561.7 237.6 561.7 242C561.6 246.4 561.3 252.7 561.7 256.7C562 260.7 562.7 263.3 563.7 266C564.7 268.7 566.9 271.6 567.7 272.9C568.4 274.3 567.1 272.5 568 274C568.9 275.5 570.7 279.1 573.3 282C576 284.9 580.1 288.4 584 291.3C587.9 294.2 594.6 298 596.7 299.3"/><path d="M559.8 242C559.8 244.4 559.5 252.8 559.8 256.7C560.1 260.5 561.4 263.6 561.7 264.9"/><path d="M559.8 243.3L561.7 243.3"/><path d="M559.8 246.3L561.7 246.3"/><path d="M559.8 249.2L561.7 249.2"/><path d="M559.8 252.1L561.7 252.1"/><path d="M559.8 255.1L561.7 255.1"/><path d="M561.1 264.9L563.5 263.3"/><path d="M562.5 266.8L564.9 265.2"/><path d="M563.8 268.7L566.2 267.1"/><path d="M561.4 235.3C560.3 237.1 557.2 242 555 246C552.8 250 550.8 254.2 548.3 259.3C545.9 264.4 541.7 273.8 540.3 276.7"/><path d="M560.3 266.3C559.7 268 558.2 272.6 556.3 276.7C554.4 280.7 550.2 288.3 549 290.7"/><path d="M567.3 272.9C567.2 275.8 567.5 283.8 567 290C566.5 296.2 565.4 303.6 564.3 310C563.2 316.4 561.2 324.4 560.3 328.7C559.4 332.9 559.2 334.2 559 335.3"/><path d="M568.3 274C568.8 276.7 570 284 571 290C572 296 573.1 303.6 574.3 310C575.6 316.4 577.7 324.4 578.7 328.7C579.6 332.9 579.8 334.2 580 335.3"/><path d="M500.3 256.7C500 257 499.2 256.9 498.3 258.7C497.4 260.4 495.8 264.3 495 267.3C494.2 270.3 493.9 272.9 493.7 276.7C493.4 280.4 493.6 286.2 493.7 290C493.8 293.8 494 295.6 494.3 299.3C494.7 303.1 495.1 307.8 495.7 312.7C496.3 317.6 497.4 324.9 497.9 328.7C498.5 332.4 498.8 334.2 499 335.3"/><path d="M494.3 299.3C495.3 301.3 498.1 307.3 500.3 311.3C502.6 315.3 506.4 321.3 507.7 323.3"/><path d="M497 244.7C497.2 245.8 498 249.1 498.3 251.3C498.7 253.6 498.9 256.9 499 258"/><path d="M499.7 246C499.9 247.1 500.7 251 501 252.7C501.3 254.3 501.6 255.4 501.7 256"/><path d="M501.7 248L503.7 252"/><path d="M498.3 258.7C499.1 257.8 501.7 254.8 503 253.3C504.3 251.9 505 250.1 506.3 250C507.7 249.9 509.7 251.6 511 252.7C512.3 253.8 513.4 254.7 514.3 256.7C515.2 258.7 515.3 261.8 516.3 264.7C517.3 267.6 518.7 270.9 520.3 274C522 277.1 525.3 281.8 526.3 283.3"/><path d="M497 230C498.2 231.6 501.6 236.3 504.3 239.3C507.1 242.3 512.1 246.6 513.7 248"/><path d="M622 252.7C621.2 254.2 618.4 258.7 617.3 262C616.2 265.3 615.6 269.3 615.3 272.7C615.1 276 616.3 279.2 616 282C615.7 284.8 613.8 288.1 613.3 289.3"/><path d="M620.7 256.7C620.4 258.4 619.3 263.3 619.3 267.3C619.3 271.3 620.2 276.4 620.7 280.7C621.1 284.9 621.8 289.2 622 292.7C622.2 296.1 622 299.9 622 301.3"/><path d="M620.7 262C621.7 264.4 624.6 271.6 626.7 276.7C628.8 281.8 631.3 287.8 633.3 292.7C635.3 297.6 637.2 302.2 638.7 306C640.1 309.8 641.3 312.7 642 315.3C642.7 318 642.9 319.8 642.7 322C642.4 324.2 641.2 326.4 640.7 328.7C640.1 330.9 639.6 334.2 639.3 335.3"/><path d="M629.3 254.7C629.4 257.2 629.6 264.8 630 270C630.4 275.2 631.4 282.2 632 286C632.6 289.8 633.1 291.6 633.3 292.7"/><path d="M612.7 230L612.8 234"/><path d="M515.5 124.5C516.6 123.7 520.1 120.8 522 120C523.9 119.2 526.2 119.7 527 119.6"/></g><path d="M578.6 14L585.8 14L585.4 21L584.5 32.6L582.6 44L580.9 34.5L580 24Z" fill="#1a1a1a"/></g>
<path d="M589 443L580 474L576.5 485.5L570 490.5L560 500L540 517L502 551L466.6 582.7L445.3 597.2L445.3 613.6L472.5 592.3L504 568L540 535L560 520L588.5 497.5L592.6 491L598 470L605 443Z" fill="#ea837d" stroke="#8a3a33" stroke-width="0.5" stroke-linejoin="round"/>
<path d="M572.4 486.2L593.8 493.8" stroke="#a90f18" stroke-width="2.2" stroke-linecap="butt" fill="none"/>
<rect x="-2.2" y="-2.3" width="4.4" height="4.6" rx="1.2" transform="translate(572.4 486.2) rotate(19.5)" fill="#cf1820"/>
<rect x="-3.2" y="-2.6" width="6.4" height="5.2" rx="1.3" transform="translate(593.6 493.8) rotate(19.5)" fill="#cf1820"/>
<g transform="translate(-13.3 426.2)"><g fill="#fff" stroke="none"><path d="M508 66.4C506.8 67.1 503.3 69.3 500.5 70.7C497.7 72.1 493.8 72.9 491.2 74.8C488.6 76.7 486.4 79.2 484.7 82.3C483 85.4 481.7 89.7 480.9 93.5C480.2 97.2 479.8 100.3 480 104.7C480.2 109 481.1 114.9 481.9 119.6C482.6 124.3 484.8 128.9 484.7 132.7C484.5 136.4 481.7 139.2 480.9 142C480.2 144.8 479.8 147 480 149.5C480.2 152 481.3 154.8 482.2 156.9C483.2 159.1 484.6 159.7 485.6 162.5C486.6 165.3 487.5 170 488.4 173.7C489.3 177.5 489.5 181.5 491.2 184.9C492.9 188.4 497.4 192.7 498.7 194.3L539.7 192.4C539.3 191.2 537.9 187.4 536.9 184.9C536 182.4 535.5 180 534.1 177.5C532.7 175 530.9 172.5 528.5 170C526.2 167.5 521.8 165 520.1 162.5C518.4 160 518.7 157.9 518.3 155.1C517.8 152.3 517.8 149.5 517.3 145.7C516.9 142 516.1 137 515.5 132.7C514.8 128.3 514.5 123.3 513.6 119.6C512.7 115.9 511.3 113.7 509.9 110.3C508.5 106.8 506.6 103.1 505.2 99.1C503.8 95 502.4 90.4 501.5 86C500.5 81.6 499.9 75.1 499.6 72.9Z"/></g><g fill="none" stroke="#444" stroke-width="0.75" stroke-linecap="round" stroke-linejoin="round"><path d="M508 66.4C506.8 67.1 503.3 69.3 500.5 70.7C497.7 72.1 493.8 72.9 491.2 74.8C488.6 76.7 486.4 79.2 484.7 82.3C483 85.4 481.7 89.7 480.9 93.5C480.2 97.2 479.8 100.3 480 104.7C480.2 109 481.1 114.9 481.9 119.6C482.6 124.3 484.8 128.9 484.7 132.7C484.5 136.4 481.7 139.2 480.9 142C480.2 144.8 479.8 147 480 149.5C480.2 152 481.3 154.8 482.2 156.9C483.2 159.1 484.6 159.7 485.6 162.5C486.6 165.3 487.5 170 488.4 173.7C489.3 177.5 489.5 181.5 491.2 184.9C492.9 188.4 497.4 192.7 498.7 194.3"/><path d="M499.6 72.9C499.9 75.1 500.5 81.6 501.5 86C502.4 90.4 503.8 95 505.2 99.1C506.6 103.1 508.5 106.8 509.9 110.3C511.3 113.7 512.7 115.9 513.6 119.6C514.5 123.3 514.8 128.3 515.5 132.7C516.1 137 516.9 142 517.3 145.7C517.8 149.5 517.8 152.3 518.3 155.1C518.7 157.9 518.4 160 520.1 162.5C521.8 165 526.2 167.5 528.5 170C530.9 172.5 532.7 175 534.1 177.5C535.5 180 536 182.4 536.9 184.9C537.9 187.4 539.3 191.2 539.7 192.4"/><path d="M495.9 75.7C495.6 76.5 494.7 78.8 494.6 80.4C494.4 82 494.9 84.3 494.9 85.1"/><path d="M497.7 74.8C497.6 75.7 496.9 78.5 496.8 80.4C496.7 82.3 497.1 85.4 497.2 86.4"/><path d="M499.4 76.7C499.3 77.6 498.8 80.4 498.7 82.3C498.6 84.1 498.8 86.9 498.9 87.9"/><path d="M500.5 116.2C501.8 115.7 506.3 114.6 508 113.3C509.7 111.9 510.5 108.9 511 108"/><path d="M487.5 151.3C489.3 150.4 495.2 147.9 498.7 145.7C502.1 143.6 505.9 141.1 508 138.3C510.1 135.5 510.5 130.5 511 128.9"/><path d="M485.6 157.3C487.8 156.4 494.8 153.4 498.7 151.7C502.6 150 506.8 147.7 508.9 147.2C511.1 146.8 511.6 148.4 511.7 149.1C511.9 149.8 510.2 151 509.9 151.3"/><path d="M488.4 174.7C490.4 173.9 496.3 172 500.5 170C504.7 168 510.6 164.8 513.6 162.5C516.6 160.3 517.8 157.6 518.6 156.6"/><path d="M518.3 155.1C518.5 155.9 519.6 158.4 519.6 160.3C519.6 162.2 518.5 165.3 518.3 166.3"/></g></g>
<path d="M445.3 613.8L453.2 608.8L462 627L479.5 651.5L474.5 676L470 669L447 617Z" fill="#ea837d" stroke="#8a3a33" stroke-width="0.5" stroke-linejoin="round"/>
<path d="M630.8 618C630.9 619.2 631.5 627.6 631.6 630C631.7 632.4 631.8 639.6 631.6 642C631.4 644.4 630.6 652.2 630 654C629.4 655.8 626.9 659 626 660.4C625.1 661.8 621.8 666.4 620.8 667.6C619.8 668.8 616.8 673.2 616 672C615.2 670.8 612.9 657.8 613 656C613.1 654.2 616 654.8 617.2 654C618.4 653.2 624.1 649.2 625.2 647.6C626.3 646 628 639.8 628.4 638C628.8 636.2 629.1 632 629.3 630C629.5 628 630.1 619.2 630.2 618C630.4 616.8 630.7 616.8 630.8 618Z" fill="#ea837d" stroke="#8a3a33" stroke-width="0.5" stroke-linejoin="round"/>
<path d="M479 652.4C481 652.1 490.7 650.4 494 650C497.3 649.6 497.9 649.6 504 649.4C510.1 649.2 532.5 648.8 540 648.6C547.5 648.4 554 648 560 648C566 648 580.2 648.4 584.8 648.6C589.4 648.8 591.8 648.9 594.4 649.2C597 649.5 601.8 650.3 604 651C606.2 651.7 610.1 654 611 654.5L614.5 668C613.1 667.5 606.5 664.9 604 664.2C601.5 663.5 598 663.3 595.6 663C593.2 662.7 590.3 661.9 586 662C581.7 662.1 569.3 663.1 563.2 663.4C557.1 663.7 546.6 663.8 540 664C533.4 664.2 520.1 664.5 514 665C507.9 665.5 499.1 666.6 494 667.4C488.9 668.2 478 670.5 475.5 671Z" fill="#ea837d" stroke="#8a3a33" stroke-width="0.5"/>
<g transform="translate(-13.3 426.2)"><g fill="#fff" stroke="none"><path d="M518.7 206.7C516.6 209.3 520.1 212.1 520 214C519.9 215.9 518.6 218.9 518 220.7C517.4 222.4 515.6 225.7 515.3 227.3C515.1 228.9 515.6 231.7 516 232.7C516.4 233.6 518 234.8 518.7 234.3C519.4 233.7 520.8 230.1 521.3 228.7C521.9 227.2 522 222.8 522.7 223.3C523.3 223.9 525.3 230.9 526 232.7C526.7 234.4 527.4 236.2 528 236.7C528.6 237.1 530.1 236.9 530.7 236.3C531.2 235.6 532.2 234.3 532 232C531.8 229.7 528.9 219.4 529.3 219.3C529.8 219.2 534.2 229.1 535.3 231.3C536.5 233.6 537.1 235.4 538 236C538.9 236.6 541.4 236.2 542 235.6C542.6 235 543.5 234.1 542.7 231.3C541.9 228.5 535.6 215.4 536 214.7C536.4 214 544.2 224 546 226C547.8 228 548.4 229.6 549.3 230C550.3 230.4 552.9 229.6 553.3 228.9C553.8 228.2 554.1 227.8 552.7 224.7C551.2 221.5 542.8 206.6 542.7 205.3C542.5 204.1 549.6 213.7 551.3 215.3C553 217 554.7 217.6 555.3 217.5C556 217.3 556.6 215.4 556.1 214C555.7 212.6 553.4 209.1 552 207.3C550.6 205.6 547.6 202.1 546 200.7C544.4 199.2 541.4 197.6 540 196.7C538.6 195.8 538.2 192.7 535.3 194C532.5 195.3 520.7 204 518.7 206.7Z"/><path d="M512.7 195.3L519.3 188.7L527.3 184L535.3 185.3L540 190L540.7 192L536.7 194.7L532.7 192L526 192.7L518.7 196.7L516.7 202L513.3 200.7Z"/><path d="M589.3 187.7L596.7 189L607.3 195L615.3 201L612.7 203.7L608.7 205L602 199.7L592.7 195L588.7 193Z"/><path d="M591.3 195.7C589.2 196.1 585.1 202.1 583.3 204.3C581.5 206.6 577.2 212.7 576 215C574.8 217.3 573 222.5 572.7 224.3C572.4 226.1 572.9 229.6 573.3 230.3C573.8 231.1 576 231 576.7 230.6C577.3 230.2 578.7 226.3 578.7 227C578.7 227.7 576.9 234.6 576.7 236.3C576.4 238 576.4 240.9 576.7 241.7C577 242.5 578.9 243.3 579.3 243.3C579.8 243.3 580.4 241.2 580.4 241.7C580.4 242.1 579.2 246 579.3 247C579.4 248 580.8 250.3 581.3 250.5C581.9 250.7 583.6 249 584.1 248.6C584.7 248.2 585.5 246.9 586 247C586.5 247.1 587.4 249.1 588 249.1C588.6 249.2 590.7 248 591.3 247.3C592 246.6 592.8 243.3 593.3 243C593.9 242.7 595.4 244.7 596 244.6C596.6 244.5 598.4 243.2 598.8 241.9C599.2 240.7 599 235.6 599.3 233.7C599.7 231.8 601.4 227.8 602 225.7C602.6 223.5 604.3 217.3 604.7 215C605.1 212.7 605.6 207.4 605.3 205.7C605 204 603.6 201.5 602 200.3C600.4 199.2 593.5 195.2 591.3 195.7Z"/></g><g fill="none" stroke="#444" stroke-width="0.75" stroke-linecap="round" stroke-linejoin="round"><path d="M512.7 195.3C513.8 194.2 516.9 190.6 519.3 188.7C521.8 186.8 524.7 184.6 527.3 184C530 183.4 533.2 184.3 535.3 185.3C537.4 186.3 539.1 188.9 540 190C540.9 191.1 540.6 191.7 540.7 192"/><path d="M516.7 202C517 201.1 517.1 198.2 518.7 196.7C520.2 195.1 523.7 193.4 526 192.7C528.3 191.9 530.9 191.7 532.7 192C534.4 192.3 536 194.2 536.7 194.7"/><path d="M512.7 195.3C512.8 196.2 512.6 198.9 513.3 200.7C514.1 202.4 516.7 205.1 517.3 206"/><path d="M518.7 206.7C518.8 207.6 520.1 212.1 520 214C519.9 215.9 518.6 218.9 518 220.7C517.4 222.4 515.6 225.7 515.3 227.3C515.1 228.9 515.6 231.7 516 232.7C516.4 233.6 518 234.8 518.7 234.3C519.4 233.7 520.8 230.1 521.3 228.7C521.9 227.2 522 222.8 522.7 223.3C523.3 223.9 525.3 230.9 526 232.7C526.7 234.4 527.4 236.2 528 236.7C528.6 237.1 530.1 236.9 530.7 236.3C531.2 235.6 532.2 234.3 532 232C531.8 229.7 528.9 219.4 529.3 219.3C529.8 219.2 534.2 229.1 535.3 231.3C536.5 233.6 537.1 235.4 538 236C538.9 236.6 541.4 236.2 542 235.6C542.6 235 543.5 234.1 542.7 231.3C541.9 228.5 535.6 215.4 536 214.7C536.4 214 544.2 224 546 226C547.8 228 548.4 229.6 549.3 230C550.3 230.4 552.9 229.6 553.3 228.9C553.8 228.2 554.1 227.8 552.7 224.7C551.2 221.5 542.8 206.6 542.7 205.3C542.5 204.1 549.6 213.7 551.3 215.3C553 217 554.7 217.6 555.3 217.5C556 217.3 556.6 215.4 556.1 214C555.7 212.6 553.4 209.1 552 207.3C550.6 205.6 547.6 202.1 546 200.7C544.4 199.2 541.4 197.6 540 196.7C538.6 195.8 536 194.4 535.3 194"/><path d="M589.3 187.7C590.6 187.9 593.7 187.8 596.7 189C599.7 190.2 604.2 193 607.3 195C610.4 197 614 200 615.3 201"/><path d="M588.7 193C589.3 193.3 590.4 193.9 592.7 195C594.9 196.1 599.3 198 602 199.7C604.7 201.3 607.6 204.1 608.7 205"/><path d="M589.3 187.7L588.7 193"/><path d="M615.3 201C614.9 201.4 613.8 202.9 612.7 203.7C611.6 204.4 609.3 205.1 608.7 205.4"/><path d="M591.3 195.7C590.3 196.8 585.4 201.8 583.3 204.3C581.3 206.9 577.4 212.3 576 215C574.6 217.7 573 222.3 572.7 224.3C572.3 226.4 572.8 229.5 573.3 230.3C573.9 231.2 575.8 231.6 576.7 230.6C577.6 229.6 579.1 225.3 580 223C580.9 220.7 582.9 214.9 583.3 213.7"/><path d="M580.7 225.7C580.1 227.1 577.2 234.2 576.7 236.3C576.1 238.5 576.3 240.7 576.7 241.7C577 242.6 578.4 244.2 579.3 243.3C580.2 242.4 582.3 237.2 583.3 235C584.4 232.8 586.8 228.1 587.3 227"/><path d="M583.3 235C582.8 236.6 579.6 244.9 579.3 247C579.1 249.1 580.7 250.3 581.3 250.5C582 250.7 583 250.5 584.1 248.6C585.3 246.7 588.9 238.9 590 236.3C591.1 233.8 592.3 230.6 592.7 229.7"/><path d="M588.7 240.3C588.3 241.2 586.1 245.8 586 247C585.9 248.2 587.3 249.1 588 249.1C588.7 249.2 590.4 248.6 591.3 247.3C592.2 245.9 594 241.2 594.7 239C595.4 236.8 596.4 232.1 596.7 231"/><path d="M594.7 239C594.5 239.5 593.2 242.3 593.3 243C593.5 243.7 595.3 244.7 596 244.6C596.7 244.5 598.4 243.4 598.8 241.9C599.2 240.5 598.9 235.8 599.3 233.7C599.8 231.5 601.3 228.2 602 225.7C602.7 223.2 604.2 217.7 604.7 215C605.1 212.3 605.2 206.9 605.3 205.7"/><path d="M596.7 213.7C596.8 216.1 596.9 225 597.3 228.3C597.8 231.7 599 232.8 599.3 233.7"/></g><g fill="#fff" stroke="#444" stroke-width="0.6"><ellipse cx="529.3" cy="234" rx="1.6" ry="1.9" transform="rotate(-20 529.3 234)"/><ellipse cx="539.3" cy="233.5" rx="1.6" ry="1.9" transform="rotate(-20 539.3 233.5)"/><ellipse cx="550.7" cy="227.6" rx="1.6" ry="1.9" transform="rotate(-35 550.7 227.6)"/><ellipse cx="554.7" cy="214.8" rx="1.6" ry="1.9" transform="rotate(-50 554.7 214.8)"/><ellipse cx="574.8" cy="228.3" rx="1.5" ry="1.8" transform="rotate(10 574.8 228.3)"/><ellipse cx="578.3" cy="241.3" rx="1.5" ry="1.8" transform="rotate(20 578.3 241.3)"/><ellipse cx="581.7" cy="248.1" rx="1.5" ry="1.8" transform="rotate(25 581.7 248.1)"/><ellipse cx="588.7" cy="247.3" rx="1.5" ry="1.8" transform="rotate(30 588.7 247.3)"/><ellipse cx="596.7" cy="242.5" rx="1.5" ry="1.8" transform="rotate(40 596.7 242.5)"/></g></g>
<rect x="629.2" y="596.4" width="9.6" height="20.4" rx="3.2" fill="#fff" stroke="#e59aa0" stroke-width="0.8"/><rect x="630.4" y="597.6" width="7.2" height="18" rx="2.6" fill="#de1f2b"/>
<path d="M478.4 647.6L480.4 646.8L482.2 647.4L482.4 649.2L480.8 658L478.8 668.4L483.2 670L484.2 669.2L483.6 673.6L482 674.6L480 675.8L478 678.2L474 679.4L472 677.2L472.8 670L475.6 658Z" fill="#d0101b"/>
<path d="M480.4 648.5L476.8 664L475.2 677.5M478.6 648L474.6 664L473.6 676" stroke="#a50d19" stroke-width="0.6" fill="none"/>
<path d="M610.4 664C610 664.1 609.5 668.1 609.4 669C609.3 669.9 609.5 672.3 609.8 673C610.1 673.7 611.5 675.6 612 676C612.5 676.4 614.9 677.8 615 677C615.1 676.2 613.5 669.3 613 668C612.5 666.7 610.8 663.9 610.4 664Z" fill="#a50d19"/>
<path d="M609.4 647.6C609.7 647.1 611.1 646.6 611.6 646.6C612.1 646.6 613.8 646.7 614.2 647.2C614.6 647.7 615.6 650.7 616 652C616.4 653.3 617.8 658.6 618.2 660.4C618.6 662.2 620.1 668.4 620.3 670C620.5 671.6 620.4 675.6 620.2 676.5C620 677.4 618.8 679.1 618.4 679.4C618 679.7 616.2 679.6 615.8 679.2C615.4 678.8 614.4 676.7 614 675C613.6 673.3 612.1 664.4 611.6 662C611.1 659.6 608.8 652.9 608.6 651.5C608.4 650.1 609.1 648.1 609.4 647.6Z" fill="#d0101b"/>
<path d="M611.8 649L615 662L617.6 676.5" stroke="#a50d19" stroke-width="0.6" fill="none"/>
<path d="M601 494.7L612 484L612 488.1L621 488.1L621 501.3L612 501.3L612 505.4Z" fill="#2cc7f4"/><rect x="622.8" y="488.1" width="3.2" height="13.2" fill="#2cc7f4"/><rect x="627.8" y="488.1" width="2.2" height="13.2" fill="#2cc7f4"/><rect x="631.8" y="488.1" width="1.4" height="13.2" fill="#2cc7f4"/><rect x="635.2" y="488.1" width="1.2" height="13.2" fill="#2cc7f4"/>
<circle cx="625" cy="476" r="7.4" fill="none" stroke="#2cc7f4" stroke-width="1"/><text x="625" y="480.7" font-size="13" text-anchor="middle" fill="#2cc7f4" font-family="Liberation Sans,sans-serif">6</text>
<g transform="translate(445.8 591.2) rotate(-45) translate(35.4 0)"><path d="M-35.4 0L-24.4 -10.7L-24.4 -6.6L-15.4 -6.6L-15.4 6.6L-24.4 6.6L-24.4 10.7Z" fill="#2cc7f4"/><rect x="-13.6" y="-6.6" width="3.2" height="13.2" fill="#2cc7f4"/><rect x="-8.6" y="-6.6" width="2.2" height="13.2" fill="#2cc7f4"/><rect x="-4.6" y="-6.6" width="1.4" height="13.2" fill="#2cc7f4"/><rect x="-1.2" y="-6.6" width="1.2" height="13.2" fill="#2cc7f4"/></g>
<circle cx="451.9" cy="561.1" r="7.4" fill="none" stroke="#2cc7f4" stroke-width="1"/><text x="451.9" y="565.8" font-size="13" text-anchor="middle" fill="#2cc7f4" font-family="Liberation Sans,sans-serif">5</text>
</g>
<g fill="none" stroke="#43c0e2" stroke-width="2.1">
<rect x="76" y="62" width="267" height="266" rx="5.6"/>
<rect x="416" y="64" width="267" height="266" rx="5.6"/>
<rect x="76" y="447" width="267" height="266" rx="5.6"/>
<rect x="415.2" y="446" width="267.2" height="266" rx="5.6"/>
</g>
</svg>
<div class="cap" style="left:75px;top:335.5px;width:268px;height:87.5px;">
<span style="top:4px;width:268px;left:-0.4px;">打开安全座，平放在车座</span>
<span style="top:30px;width:268px;left:-0.4px;">上，拉开两侧伸缩杆</span>
</div>
<div class="cap" style="left:415px;top:328px;width:268px;height:87px;">
<span style="top:7px;width:268px;left:-0.4px;letter-spacing:1.55px;">小孩坐上<i style="display:inline-block;width:3px"></i>安全座，将伸缩</span>
<span style="top:33px;width:268px;left:-0.4px;">杆调整至贴近小孩身体两</span>
<span style="top:59px;width:268px;left:-0.4px;">侧</span>
</div>
<div class="cap" style="left:75px;top:717px;width:268px;height:114px;">
<span style="top:7px;width:268px;left:-11.4px;">将车载安全带腰带穿过</span>
<span style="top:33px;width:268px;left:-10.4px;">安全座③、④固定扣</span>
</div>
<div class="cap" style="left:418px;top:717px;width:268px;height:114px;">
<span style="top:7px;width:268px;left:-0.4px;">将车载安全带插入固定器</span>
<span style="top:33px;width:268px;left:-0.4px;">⑤，最后将安全座的调节</span>
<span style="top:59px;width:268px;left:-0.4px;">带固定扣扣在安全带肩带</span>
<span style="top:85px;width:268px;left:-0.4px;">上</span>
</div>
</body>
</html>
